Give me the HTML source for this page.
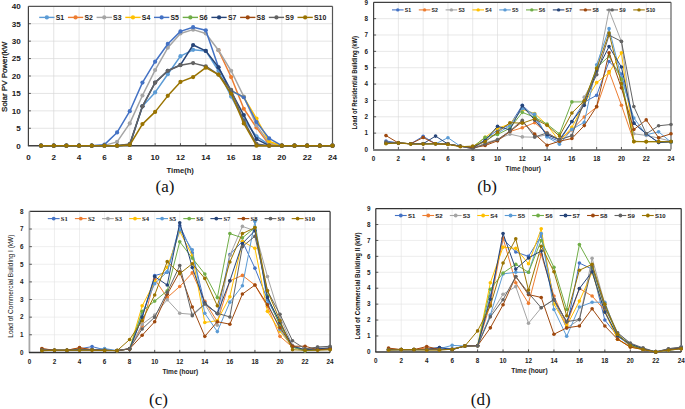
<!DOCTYPE html><html><head><meta charset="utf-8"><style>html,body{margin:0;padding:0;background:#fff;width:685px;height:409px;overflow:hidden}svg{display:block}text{font-family:"Liberation Sans",sans-serif}</style></head><body>
<svg width="685" height="409" viewBox="0 0 685 409">
<g stroke="#D9D9D9" stroke-width="0.7"><line x1="53.74" y1="6.3" x2="53.74" y2="145.7"/><line x1="79.08" y1="6.3" x2="79.08" y2="145.7"/><line x1="104.43" y1="6.3" x2="104.43" y2="145.7"/><line x1="129.77" y1="6.3" x2="129.77" y2="145.7"/><line x1="155.11" y1="6.3" x2="155.11" y2="145.7"/><line x1="180.45" y1="6.3" x2="180.45" y2="145.7"/><line x1="205.79" y1="6.3" x2="205.79" y2="145.7"/><line x1="231.13" y1="6.3" x2="231.13" y2="145.7"/><line x1="256.48" y1="6.3" x2="256.48" y2="145.7"/><line x1="281.82" y1="6.3" x2="281.82" y2="145.7"/><line x1="307.16" y1="6.3" x2="307.16" y2="145.7"/><line x1="28.4" y1="128.27" x2="332.5" y2="128.27"/><line x1="28.4" y1="110.85" x2="332.5" y2="110.85"/><line x1="28.4" y1="93.42" x2="332.5" y2="93.42"/><line x1="28.4" y1="76" x2="332.5" y2="76"/><line x1="28.4" y1="58.58" x2="332.5" y2="58.58"/><line x1="28.4" y1="41.15" x2="332.5" y2="41.15"/><line x1="28.4" y1="23.73" x2="332.5" y2="23.73"/></g>
<line x1="28.4" y1="6.3" x2="332.5" y2="6.3" stroke="#555" stroke-width="1.2"/>
<line x1="332.5" y1="6.3" x2="332.5" y2="145.7" stroke="#555" stroke-width="1.2"/>
<line x1="28.4" y1="6.3" x2="28.4" y2="145.7" stroke="#404040" stroke-width="1.2"/>
<line x1="27.9" y1="145.7" x2="332.5" y2="145.7" stroke="#404040" stroke-width="1.5"/>
<g stroke="#333" stroke-width="0.8"><line x1="28.4" y1="128.27" x2="30.9" y2="128.27"/><line x1="28.4" y1="110.85" x2="30.9" y2="110.85"/><line x1="28.4" y1="93.42" x2="30.9" y2="93.42"/><line x1="28.4" y1="76" x2="30.9" y2="76"/><line x1="28.4" y1="58.58" x2="30.9" y2="58.58"/><line x1="28.4" y1="41.15" x2="30.9" y2="41.15"/><line x1="28.4" y1="23.73" x2="30.9" y2="23.73"/><line x1="53.74" y1="145.7" x2="53.74" y2="143.2"/><line x1="79.08" y1="145.7" x2="79.08" y2="143.2"/><line x1="104.43" y1="145.7" x2="104.43" y2="143.2"/><line x1="129.77" y1="145.7" x2="129.77" y2="143.2"/><line x1="155.11" y1="145.7" x2="155.11" y2="143.2"/><line x1="180.45" y1="145.7" x2="180.45" y2="143.2"/><line x1="205.79" y1="145.7" x2="205.79" y2="143.2"/><line x1="231.13" y1="145.7" x2="231.13" y2="143.2"/><line x1="256.48" y1="145.7" x2="256.48" y2="143.2"/><line x1="281.82" y1="145.7" x2="281.82" y2="143.2"/><line x1="307.16" y1="145.7" x2="307.16" y2="143.2"/></g>
<g font-size="8.1" font-weight="bold" fill="#222"><text x="20.8" y="148.62" text-anchor="end">0</text><text x="20.8" y="131.19" text-anchor="end">5</text><text x="20.8" y="113.77" text-anchor="end">10</text><text x="20.8" y="96.34" text-anchor="end">15</text><text x="20.8" y="78.92" text-anchor="end">20</text><text x="20.8" y="61.49" text-anchor="end">25</text><text x="20.8" y="44.07" text-anchor="end">30</text><text x="20.8" y="26.64" text-anchor="end">35</text><text x="20.8" y="9.22" text-anchor="end">40</text><text x="28.4" y="160.2" text-anchor="middle">0</text><text x="53.74" y="160.2" text-anchor="middle">2</text><text x="79.08" y="160.2" text-anchor="middle">4</text><text x="104.43" y="160.2" text-anchor="middle">6</text><text x="129.77" y="160.2" text-anchor="middle">8</text><text x="155.11" y="160.2" text-anchor="middle">10</text><text x="180.45" y="160.2" text-anchor="middle">12</text><text x="205.79" y="160.2" text-anchor="middle">14</text><text x="231.13" y="160.2" text-anchor="middle">16</text><text x="256.48" y="160.2" text-anchor="middle">18</text><text x="281.82" y="160.2" text-anchor="middle">20</text><text x="307.16" y="160.2" text-anchor="middle">22</text><text x="332.5" y="160.2" text-anchor="middle">24</text></g>
<polyline points="41.07,145.7 53.74,145.7 66.41,145.7 79.08,145.7 91.75,145.7 104.43,145.7 117.1,145.7 129.77,144.65 142.44,106.32 155.11,92.38 167.78,74.26 180.45,56.14 193.12,49.86 205.79,50.91 218.46,70.77 231.13,96.56 243.8,119.56 256.48,136.29 269.15,144.65 281.82,145.7 294.49,145.7 307.16,145.7 319.83,145.7 332.5,145.7" fill="none" stroke="#5B9BD5" stroke-width="1.5" stroke-linejoin="round"/>
<g fill="#5B9BD5"><circle cx="41.07" cy="145.7" r="2.1"/><circle cx="53.74" cy="145.7" r="2.1"/><circle cx="66.41" cy="145.7" r="2.1"/><circle cx="79.08" cy="145.7" r="2.1"/><circle cx="91.75" cy="145.7" r="2.1"/><circle cx="104.43" cy="145.7" r="2.1"/><circle cx="117.1" cy="145.7" r="2.1"/><circle cx="129.77" cy="144.65" r="2.1"/><circle cx="142.44" cy="106.32" r="2.1"/><circle cx="155.11" cy="92.38" r="2.1"/><circle cx="167.78" cy="74.26" r="2.1"/><circle cx="180.45" cy="56.14" r="2.1"/><circle cx="193.12" cy="49.86" r="2.1"/><circle cx="205.79" cy="50.91" r="2.1"/><circle cx="218.46" cy="70.77" r="2.1"/><circle cx="231.13" cy="96.56" r="2.1"/><circle cx="243.8" cy="119.56" r="2.1"/><circle cx="256.48" cy="136.29" r="2.1"/><circle cx="269.15" cy="144.65" r="2.1"/><circle cx="281.82" cy="145.7" r="2.1"/><circle cx="294.49" cy="145.7" r="2.1"/><circle cx="307.16" cy="145.7" r="2.1"/><circle cx="319.83" cy="145.7" r="2.1"/><circle cx="332.5" cy="145.7" r="2.1"/></g>
<polyline points="218.46,50.21 231.13,77.05 243.8,108.76 256.48,127.58 269.15,144.65 281.82,145.7 294.49,145.7 307.16,145.7 319.83,145.7 332.5,145.7" fill="none" stroke="#ED7D31" stroke-width="1.5" stroke-linejoin="round"/>
<g fill="#ED7D31"><circle cx="218.46" cy="50.21" r="2.1"/><circle cx="231.13" cy="77.05" r="2.1"/><circle cx="243.8" cy="108.76" r="2.1"/><circle cx="256.48" cy="127.58" r="2.1"/><circle cx="269.15" cy="144.65" r="2.1"/><circle cx="281.82" cy="145.7" r="2.1"/><circle cx="294.49" cy="145.7" r="2.1"/><circle cx="307.16" cy="145.7" r="2.1"/><circle cx="319.83" cy="145.7" r="2.1"/><circle cx="332.5" cy="145.7" r="2.1"/></g>
<polyline points="41.07,145.7 53.74,145.7 66.41,145.7 79.08,145.7 91.75,145.7 104.43,145.35 117.1,141.87 129.77,123.4 142.44,95.52 155.11,70.08 167.78,47.77 180.45,33.48 193.12,29.65 205.79,33.48 218.46,50.21 231.13,70.77 243.8,96.56 256.48,125.14 269.15,142.91 281.82,145.7 294.49,145.7 307.16,145.7 319.83,145.7 332.5,145.7" fill="none" stroke="#A5A5A5" stroke-width="1.5" stroke-linejoin="round"/>
<g fill="#A5A5A5"><circle cx="41.07" cy="145.7" r="2.1"/><circle cx="53.74" cy="145.7" r="2.1"/><circle cx="66.41" cy="145.7" r="2.1"/><circle cx="79.08" cy="145.7" r="2.1"/><circle cx="91.75" cy="145.7" r="2.1"/><circle cx="104.43" cy="145.35" r="2.1"/><circle cx="117.1" cy="141.87" r="2.1"/><circle cx="129.77" cy="123.4" r="2.1"/><circle cx="142.44" cy="95.52" r="2.1"/><circle cx="155.11" cy="70.08" r="2.1"/><circle cx="167.78" cy="47.77" r="2.1"/><circle cx="180.45" cy="33.48" r="2.1"/><circle cx="193.12" cy="29.65" r="2.1"/><circle cx="205.79" cy="33.48" r="2.1"/><circle cx="218.46" cy="50.21" r="2.1"/><circle cx="231.13" cy="70.77" r="2.1"/><circle cx="243.8" cy="96.56" r="2.1"/><circle cx="256.48" cy="125.14" r="2.1"/><circle cx="269.15" cy="142.91" r="2.1"/><circle cx="281.82" cy="145.7" r="2.1"/><circle cx="294.49" cy="145.7" r="2.1"/><circle cx="307.16" cy="145.7" r="2.1"/><circle cx="319.83" cy="145.7" r="2.1"/><circle cx="332.5" cy="145.7" r="2.1"/></g>
<polyline points="231.13,90.64 243.8,97.26 256.48,118.52 269.15,141.52 281.82,145.7 294.49,145.7 307.16,145.7 319.83,145.7 332.5,145.7" fill="none" stroke="#FFC000" stroke-width="1.5" stroke-linejoin="round"/>
<g fill="#FFC000"><circle cx="231.13" cy="90.64" r="2.1"/><circle cx="243.8" cy="97.26" r="2.1"/><circle cx="256.48" cy="118.52" r="2.1"/><circle cx="269.15" cy="141.52" r="2.1"/><circle cx="281.82" cy="145.7" r="2.1"/><circle cx="294.49" cy="145.7" r="2.1"/><circle cx="307.16" cy="145.7" r="2.1"/><circle cx="319.83" cy="145.7" r="2.1"/><circle cx="332.5" cy="145.7" r="2.1"/></g>
<polyline points="41.07,145.7 53.74,145.7 66.41,145.7 79.08,145.7 91.75,145.7 104.43,144.65 117.1,132.46 129.77,111.2 142.44,82.62 155.11,61.71 167.78,43.94 180.45,31.39 193.12,27.21 205.79,30.35 218.46,67.29 231.13,90.64 243.8,97.26 256.48,122 269.15,138.38 281.82,145.7 294.49,145.7 307.16,145.7 319.83,145.7 332.5,145.7" fill="none" stroke="#4472C4" stroke-width="1.5" stroke-linejoin="round"/>
<g fill="#4472C4"><circle cx="41.07" cy="145.7" r="2.1"/><circle cx="53.74" cy="145.7" r="2.1"/><circle cx="66.41" cy="145.7" r="2.1"/><circle cx="79.08" cy="145.7" r="2.1"/><circle cx="91.75" cy="145.7" r="2.1"/><circle cx="104.43" cy="144.65" r="2.1"/><circle cx="117.1" cy="132.46" r="2.1"/><circle cx="129.77" cy="111.2" r="2.1"/><circle cx="142.44" cy="82.62" r="2.1"/><circle cx="155.11" cy="61.71" r="2.1"/><circle cx="167.78" cy="43.94" r="2.1"/><circle cx="180.45" cy="31.39" r="2.1"/><circle cx="193.12" cy="27.21" r="2.1"/><circle cx="205.79" cy="30.35" r="2.1"/><circle cx="218.46" cy="67.29" r="2.1"/><circle cx="231.13" cy="90.64" r="2.1"/><circle cx="243.8" cy="97.26" r="2.1"/><circle cx="256.48" cy="122" r="2.1"/><circle cx="269.15" cy="138.38" r="2.1"/><circle cx="281.82" cy="145.7" r="2.1"/><circle cx="294.49" cy="145.7" r="2.1"/><circle cx="307.16" cy="145.7" r="2.1"/><circle cx="319.83" cy="145.7" r="2.1"/><circle cx="332.5" cy="145.7" r="2.1"/></g>
<polyline points="41.07,145.7 53.74,145.7 66.41,145.7 79.08,145.7 91.75,145.7 104.43,145.7 117.1,145.7 129.77,144.65 142.44,106.32 155.11,82.62 167.78,70.77 180.45,64.85 193.12,44.98 205.79,50.91 218.46,67.29 231.13,91.68 243.8,115.03 256.48,139.08 269.15,145.7 281.82,145.7 294.49,145.7 307.16,145.7 319.83,145.7 332.5,145.7" fill="none" stroke="#264478" stroke-width="1.5" stroke-linejoin="round"/>
<g fill="#264478"><circle cx="41.07" cy="145.7" r="2.1"/><circle cx="53.74" cy="145.7" r="2.1"/><circle cx="66.41" cy="145.7" r="2.1"/><circle cx="79.08" cy="145.7" r="2.1"/><circle cx="91.75" cy="145.7" r="2.1"/><circle cx="104.43" cy="145.7" r="2.1"/><circle cx="117.1" cy="145.7" r="2.1"/><circle cx="129.77" cy="144.65" r="2.1"/><circle cx="142.44" cy="106.32" r="2.1"/><circle cx="155.11" cy="82.62" r="2.1"/><circle cx="167.78" cy="70.77" r="2.1"/><circle cx="180.45" cy="64.85" r="2.1"/><circle cx="193.12" cy="44.98" r="2.1"/><circle cx="205.79" cy="50.91" r="2.1"/><circle cx="218.46" cy="67.29" r="2.1"/><circle cx="231.13" cy="91.68" r="2.1"/><circle cx="243.8" cy="115.03" r="2.1"/><circle cx="256.48" cy="139.08" r="2.1"/><circle cx="269.15" cy="145.7" r="2.1"/><circle cx="281.82" cy="145.7" r="2.1"/><circle cx="294.49" cy="145.7" r="2.1"/><circle cx="307.16" cy="145.7" r="2.1"/><circle cx="319.83" cy="145.7" r="2.1"/><circle cx="332.5" cy="145.7" r="2.1"/></g>
<polyline points="41.07,145.7 53.74,145.7 66.41,145.7 79.08,145.7 91.75,145.7 104.43,145.7 117.1,145.7 129.77,143.96 142.44,106.32 155.11,82.62 167.78,70.77 180.45,65.2 193.12,63.11 205.79,66.24 218.46,74.61 231.13,89.94 243.8,120.96 256.48,143.96 269.15,145.7 281.82,145.7 294.49,145.7 307.16,145.7 319.83,145.7 332.5,145.7" fill="none" stroke="#636363" stroke-width="1.5" stroke-linejoin="round"/>
<g fill="#636363"><circle cx="41.07" cy="145.7" r="2.1"/><circle cx="53.74" cy="145.7" r="2.1"/><circle cx="66.41" cy="145.7" r="2.1"/><circle cx="79.08" cy="145.7" r="2.1"/><circle cx="91.75" cy="145.7" r="2.1"/><circle cx="104.43" cy="145.7" r="2.1"/><circle cx="117.1" cy="145.7" r="2.1"/><circle cx="129.77" cy="143.96" r="2.1"/><circle cx="142.44" cy="106.32" r="2.1"/><circle cx="155.11" cy="82.62" r="2.1"/><circle cx="167.78" cy="70.77" r="2.1"/><circle cx="180.45" cy="65.2" r="2.1"/><circle cx="193.12" cy="63.11" r="2.1"/><circle cx="205.79" cy="66.24" r="2.1"/><circle cx="218.46" cy="74.61" r="2.1"/><circle cx="231.13" cy="89.94" r="2.1"/><circle cx="243.8" cy="120.96" r="2.1"/><circle cx="256.48" cy="143.96" r="2.1"/><circle cx="269.15" cy="145.7" r="2.1"/><circle cx="281.82" cy="145.7" r="2.1"/><circle cx="294.49" cy="145.7" r="2.1"/><circle cx="307.16" cy="145.7" r="2.1"/><circle cx="319.83" cy="145.7" r="2.1"/><circle cx="332.5" cy="145.7" r="2.1"/></g>
<polyline points="41.07,145.7 53.74,145.7 66.41,145.7 79.08,145.7 91.75,145.7 104.43,145.7 117.1,145.7 129.77,145 142.44,124.09 155.11,111.9 167.78,95.86 180.45,81.92 193.12,77.05 205.79,67.64 218.46,74.61 231.13,93.77 243.8,123.4 256.48,145.7 269.15,145.7 281.82,145.7 294.49,145.7 307.16,145.7 319.83,145.7 332.5,145.7" fill="none" stroke="#997300" stroke-width="1.5" stroke-linejoin="round"/>
<g fill="#997300"><circle cx="41.07" cy="145.7" r="2.1"/><circle cx="53.74" cy="145.7" r="2.1"/><circle cx="66.41" cy="145.7" r="2.1"/><circle cx="79.08" cy="145.7" r="2.1"/><circle cx="91.75" cy="145.7" r="2.1"/><circle cx="104.43" cy="145.7" r="2.1"/><circle cx="117.1" cy="145.7" r="2.1"/><circle cx="129.77" cy="145" r="2.1"/><circle cx="142.44" cy="124.09" r="2.1"/><circle cx="155.11" cy="111.9" r="2.1"/><circle cx="167.78" cy="95.86" r="2.1"/><circle cx="180.45" cy="81.92" r="2.1"/><circle cx="193.12" cy="77.05" r="2.1"/><circle cx="205.79" cy="67.64" r="2.1"/><circle cx="218.46" cy="74.61" r="2.1"/><circle cx="231.13" cy="93.77" r="2.1"/><circle cx="243.8" cy="123.4" r="2.1"/><circle cx="256.48" cy="145.7" r="2.1"/><circle cx="269.15" cy="145.7" r="2.1"/><circle cx="281.82" cy="145.7" r="2.1"/><circle cx="294.49" cy="145.7" r="2.1"/><circle cx="307.16" cy="145.7" r="2.1"/><circle cx="319.83" cy="145.7" r="2.1"/><circle cx="332.5" cy="145.7" r="2.1"/></g>
<line x1="39.2" y1="17.4" x2="54.5" y2="17.4" stroke="#5B9BD5" stroke-width="1.4"/><circle cx="46.85" cy="17.4" r="2.1" fill="#5B9BD5"/><text x="55.7" y="19.88" style="font-family:'Liberation Sans'" font-size="6.9" font-weight="bold" fill="#222">S1</text><line x1="67.9" y1="17.4" x2="83.2" y2="17.4" stroke="#ED7D31" stroke-width="1.4"/><circle cx="75.55" cy="17.4" r="2.1" fill="#ED7D31"/><text x="84.4" y="19.88" style="font-family:'Liberation Sans'" font-size="6.9" font-weight="bold" fill="#222">S2</text><line x1="96.6" y1="17.4" x2="111.9" y2="17.4" stroke="#A5A5A5" stroke-width="1.4"/><circle cx="104.25" cy="17.4" r="2.1" fill="#A5A5A5"/><text x="113.1" y="19.88" style="font-family:'Liberation Sans'" font-size="6.9" font-weight="bold" fill="#222">S3</text><line x1="125.3" y1="17.4" x2="140.6" y2="17.4" stroke="#FFC000" stroke-width="1.4"/><circle cx="132.95" cy="17.4" r="2.1" fill="#FFC000"/><text x="141.8" y="19.88" style="font-family:'Liberation Sans'" font-size="6.9" font-weight="bold" fill="#222">S4</text><line x1="154" y1="17.4" x2="169.3" y2="17.4" stroke="#4472C4" stroke-width="1.4"/><circle cx="161.65" cy="17.4" r="2.1" fill="#4472C4"/><text x="170.5" y="19.88" style="font-family:'Liberation Sans'" font-size="6.9" font-weight="bold" fill="#222">S5</text><line x1="182.7" y1="17.4" x2="198" y2="17.4" stroke="#70AD47" stroke-width="1.4"/><circle cx="190.35" cy="17.4" r="2.1" fill="#70AD47"/><text x="199.2" y="19.88" style="font-family:'Liberation Sans'" font-size="6.9" font-weight="bold" fill="#222">S6</text><line x1="211.4" y1="17.4" x2="226.7" y2="17.4" stroke="#264478" stroke-width="1.4"/><circle cx="219.05" cy="17.4" r="2.1" fill="#264478"/><text x="227.9" y="19.88" style="font-family:'Liberation Sans'" font-size="6.9" font-weight="bold" fill="#222">S7</text><line x1="240.1" y1="17.4" x2="255.4" y2="17.4" stroke="#9E480E" stroke-width="1.4"/><circle cx="247.75" cy="17.4" r="2.1" fill="#9E480E"/><text x="256.6" y="19.88" style="font-family:'Liberation Sans'" font-size="6.9" font-weight="bold" fill="#222">S8</text><line x1="268.8" y1="17.4" x2="284.1" y2="17.4" stroke="#636363" stroke-width="1.4"/><circle cx="276.45" cy="17.4" r="2.1" fill="#636363"/><text x="285.3" y="19.88" style="font-family:'Liberation Sans'" font-size="6.9" font-weight="bold" fill="#222">S9</text><line x1="297.5" y1="17.4" x2="312.8" y2="17.4" stroke="#997300" stroke-width="1.4"/><circle cx="305.15" cy="17.4" r="2.1" fill="#997300"/><text x="314" y="19.88" style="font-family:'Liberation Sans'" font-size="6.9" font-weight="bold" fill="#222">S10</text>
<text x="166.5" y="173" font-size="7.5" font-weight="bold" fill="#222" textLength="27.4" lengthAdjust="spacingAndGlyphs">Time(h)</text>
<text transform="translate(6.9,111.9) rotate(-90)" font-size="7.6" font-weight="normal" fill="#111" stroke="#111" stroke-width="0.25" textLength="70.2" lengthAdjust="spacingAndGlyphs">Solar PV Power(kW</text>
<text x="155.6" y="192.3" style="font-family:'Liberation Serif',serif" font-size="17" fill="#111">(a)</text>
<g stroke="#D9D9D9" stroke-width="0.6"><line x1="398.38" y1="2.3" x2="398.38" y2="149.5"/><line x1="423.17" y1="2.3" x2="423.17" y2="149.5"/><line x1="447.95" y1="2.3" x2="447.95" y2="149.5"/><line x1="472.73" y1="2.3" x2="472.73" y2="149.5"/><line x1="497.52" y1="2.3" x2="497.52" y2="149.5"/><line x1="522.3" y1="2.3" x2="522.3" y2="149.5"/><line x1="547.08" y1="2.3" x2="547.08" y2="149.5"/><line x1="571.87" y1="2.3" x2="571.87" y2="149.5"/><line x1="596.65" y1="2.3" x2="596.65" y2="149.5"/><line x1="621.43" y1="2.3" x2="621.43" y2="149.5"/><line x1="646.22" y1="2.3" x2="646.22" y2="149.5"/><line x1="373.6" y1="133.14" x2="671" y2="133.14"/><line x1="373.6" y1="116.79" x2="671" y2="116.79"/><line x1="373.6" y1="100.43" x2="671" y2="100.43"/><line x1="373.6" y1="84.08" x2="671" y2="84.08"/><line x1="373.6" y1="67.72" x2="671" y2="67.72"/><line x1="373.6" y1="51.37" x2="671" y2="51.37"/><line x1="373.6" y1="35.01" x2="671" y2="35.01"/><line x1="373.6" y1="18.66" x2="671" y2="18.66"/></g>
<line x1="373.6" y1="2.3" x2="671" y2="2.3" stroke="#404040" stroke-width="1.2"/>
<line x1="671" y1="2.3" x2="671" y2="149.5" stroke="#606060" stroke-width="1.2"/>
<line x1="373.6" y1="2.3" x2="373.6" y2="149.5" stroke="#404040" stroke-width="1.2"/>
<line x1="373.1" y1="149.9" x2="671" y2="149.9" stroke="#7a7a7a" stroke-width="2.0"/>
<g stroke="#333" stroke-width="0.8"><line x1="373.6" y1="133.14" x2="376.1" y2="133.14"/><line x1="373.6" y1="116.79" x2="376.1" y2="116.79"/><line x1="373.6" y1="100.43" x2="376.1" y2="100.43"/><line x1="373.6" y1="84.08" x2="376.1" y2="84.08"/><line x1="373.6" y1="67.72" x2="376.1" y2="67.72"/><line x1="373.6" y1="51.37" x2="376.1" y2="51.37"/><line x1="373.6" y1="35.01" x2="376.1" y2="35.01"/><line x1="373.6" y1="18.66" x2="376.1" y2="18.66"/><line x1="398.38" y1="149.5" x2="398.38" y2="147"/><line x1="423.17" y1="149.5" x2="423.17" y2="147"/><line x1="447.95" y1="149.5" x2="447.95" y2="147"/><line x1="472.73" y1="149.5" x2="472.73" y2="147"/><line x1="497.52" y1="149.5" x2="497.52" y2="147"/><line x1="522.3" y1="149.5" x2="522.3" y2="147"/><line x1="547.08" y1="149.5" x2="547.08" y2="147"/><line x1="571.87" y1="149.5" x2="571.87" y2="147"/><line x1="596.65" y1="149.5" x2="596.65" y2="147"/><line x1="621.43" y1="149.5" x2="621.43" y2="147"/><line x1="646.22" y1="149.5" x2="646.22" y2="147"/></g>
<g font-size="6.3" font-weight="bold" fill="#222"><text x="368" y="151.77" text-anchor="end">0</text><text x="368" y="135.41" text-anchor="end">1</text><text x="368" y="119.06" text-anchor="end">2</text><text x="368" y="102.7" text-anchor="end">3</text><text x="368" y="86.35" text-anchor="end">4</text><text x="368" y="69.99" text-anchor="end">5</text><text x="368" y="53.63" text-anchor="end">6</text><text x="368" y="37.28" text-anchor="end">7</text><text x="368" y="20.92" text-anchor="end">8</text><text x="368" y="4.57" text-anchor="end">9</text><text x="373.6" y="160.5" text-anchor="middle">0</text><text x="398.38" y="160.5" text-anchor="middle">2</text><text x="423.17" y="160.5" text-anchor="middle">4</text><text x="447.95" y="160.5" text-anchor="middle">6</text><text x="472.73" y="160.5" text-anchor="middle">8</text><text x="497.52" y="160.5" text-anchor="middle">10</text><text x="522.3" y="160.5" text-anchor="middle">12</text><text x="547.08" y="160.5" text-anchor="middle">14</text><text x="571.87" y="160.5" text-anchor="middle">16</text><text x="596.65" y="160.5" text-anchor="middle">18</text><text x="621.43" y="160.5" text-anchor="middle">20</text><text x="646.22" y="160.5" text-anchor="middle">22</text><text x="671" y="160.5" text-anchor="middle">24</text></g>
<polyline points="385.99,141 398.38,142.96 410.78,143.78 423.17,136.25 435.56,143.78 447.95,144.1 460.34,146.23 472.73,147.86 485.12,139.69 497.52,129.87 509.91,124.97 522.3,105.34 534.69,116.79 547.08,136.42 559.48,141.32 571.87,121.7 584.26,102.07 596.65,95.36 609.04,61.51 621.43,73.94 633.83,123.17 646.22,133.8 658.61,142.47 671,142.14" fill="none" stroke="#4472C4" stroke-width="1.0" stroke-linejoin="round"/>
<g fill="#4472C4"><circle cx="385.99" cy="141" r="1.8"/><circle cx="398.38" cy="142.96" r="1.8"/><circle cx="410.78" cy="143.78" r="1.8"/><circle cx="423.17" cy="136.25" r="1.8"/><circle cx="435.56" cy="143.78" r="1.8"/><circle cx="447.95" cy="144.1" r="1.8"/><circle cx="460.34" cy="146.23" r="1.8"/><circle cx="472.73" cy="147.86" r="1.8"/><circle cx="485.12" cy="139.69" r="1.8"/><circle cx="497.52" cy="129.87" r="1.8"/><circle cx="509.91" cy="124.97" r="1.8"/><circle cx="522.3" cy="105.34" r="1.8"/><circle cx="534.69" cy="116.79" r="1.8"/><circle cx="547.08" cy="136.42" r="1.8"/><circle cx="559.48" cy="141.32" r="1.8"/><circle cx="571.87" cy="121.7" r="1.8"/><circle cx="584.26" cy="102.07" r="1.8"/><circle cx="596.65" cy="95.36" r="1.8"/><circle cx="609.04" cy="61.51" r="1.8"/><circle cx="621.43" cy="73.94" r="1.8"/><circle cx="633.83" cy="123.17" r="1.8"/><circle cx="646.22" cy="133.8" r="1.8"/><circle cx="658.61" cy="142.47" r="1.8"/><circle cx="671" cy="142.14" r="1.8"/></g>
<polyline points="385.99,142.96 398.38,142.96 410.78,143.78 423.17,143.78 435.56,143.78 447.95,144.1 460.34,146.23 472.73,147.05 485.12,144.59 497.52,139.69 509.91,131.51 522.3,127.75 534.69,122.68 547.08,133.14 559.48,139.69 571.87,129.87 584.26,116.95 596.65,106.98 609.04,71.48 621.43,105.18 633.83,141.32 646.22,141.65 658.61,141.65 671,141.65" fill="none" stroke="#ED7D31" stroke-width="1.0" stroke-linejoin="round"/>
<g fill="#ED7D31"><circle cx="385.99" cy="142.96" r="1.8"/><circle cx="398.38" cy="142.96" r="1.8"/><circle cx="410.78" cy="143.78" r="1.8"/><circle cx="423.17" cy="143.78" r="1.8"/><circle cx="435.56" cy="143.78" r="1.8"/><circle cx="447.95" cy="144.1" r="1.8"/><circle cx="460.34" cy="146.23" r="1.8"/><circle cx="472.73" cy="147.05" r="1.8"/><circle cx="485.12" cy="144.59" r="1.8"/><circle cx="497.52" cy="139.69" r="1.8"/><circle cx="509.91" cy="131.51" r="1.8"/><circle cx="522.3" cy="127.75" r="1.8"/><circle cx="534.69" cy="122.68" r="1.8"/><circle cx="547.08" cy="133.14" r="1.8"/><circle cx="559.48" cy="139.69" r="1.8"/><circle cx="571.87" cy="129.87" r="1.8"/><circle cx="584.26" cy="116.95" r="1.8"/><circle cx="596.65" cy="106.98" r="1.8"/><circle cx="609.04" cy="71.48" r="1.8"/><circle cx="621.43" cy="105.18" r="1.8"/><circle cx="633.83" cy="141.32" r="1.8"/><circle cx="646.22" cy="141.65" r="1.8"/><circle cx="658.61" cy="141.65" r="1.8"/><circle cx="671" cy="141.65" r="1.8"/></g>
<polyline points="385.99,142.96 398.38,142.96 410.78,143.78 423.17,143.78 435.56,143.78 447.95,144.1 460.34,146.23 472.73,148.68 485.12,142.96 497.52,139.36 509.91,134.13 522.3,136.91 534.69,137.23 547.08,134.78 559.48,139.69 571.87,135.6 584.26,97.16 596.65,74.26 609.04,9.99 621.43,41.55 633.83,133.8 646.22,135.43 658.61,138.05 671,141.32" fill="none" stroke="#A5A5A5" stroke-width="1.0" stroke-linejoin="round"/>
<g fill="#A5A5A5"><circle cx="385.99" cy="142.96" r="1.8"/><circle cx="398.38" cy="142.96" r="1.8"/><circle cx="410.78" cy="143.78" r="1.8"/><circle cx="423.17" cy="143.78" r="1.8"/><circle cx="435.56" cy="143.78" r="1.8"/><circle cx="447.95" cy="144.1" r="1.8"/><circle cx="460.34" cy="146.23" r="1.8"/><circle cx="472.73" cy="148.68" r="1.8"/><circle cx="485.12" cy="142.96" r="1.8"/><circle cx="497.52" cy="139.36" r="1.8"/><circle cx="509.91" cy="134.13" r="1.8"/><circle cx="522.3" cy="136.91" r="1.8"/><circle cx="534.69" cy="137.23" r="1.8"/><circle cx="547.08" cy="134.78" r="1.8"/><circle cx="559.48" cy="139.69" r="1.8"/><circle cx="571.87" cy="135.6" r="1.8"/><circle cx="584.26" cy="97.16" r="1.8"/><circle cx="596.65" cy="74.26" r="1.8"/><circle cx="609.04" cy="9.99" r="1.8"/><circle cx="621.43" cy="41.55" r="1.8"/><circle cx="633.83" cy="133.8" r="1.8"/><circle cx="646.22" cy="135.43" r="1.8"/><circle cx="658.61" cy="138.05" r="1.8"/><circle cx="671" cy="141.32" r="1.8"/></g>
<polyline points="385.99,142.96 398.38,142.63 410.78,143.78 423.17,143.78 435.56,143.78 447.95,144.1 460.34,146.23 472.73,147.05 485.12,137.4 497.52,128.24 509.91,124.15 522.3,109.43 534.69,113.52 547.08,124.97 559.48,141.32 571.87,127.42 584.26,103.7 596.65,82.61 609.04,72.79 621.43,52.84 633.83,141.65 646.22,141.65 658.61,141.65 671,141.65" fill="none" stroke="#FFC000" stroke-width="1.0" stroke-linejoin="round"/>
<g fill="#FFC000"><circle cx="385.99" cy="142.96" r="1.8"/><circle cx="398.38" cy="142.63" r="1.8"/><circle cx="410.78" cy="143.78" r="1.8"/><circle cx="423.17" cy="143.78" r="1.8"/><circle cx="435.56" cy="143.78" r="1.8"/><circle cx="447.95" cy="144.1" r="1.8"/><circle cx="460.34" cy="146.23" r="1.8"/><circle cx="472.73" cy="147.05" r="1.8"/><circle cx="485.12" cy="137.4" r="1.8"/><circle cx="497.52" cy="128.24" r="1.8"/><circle cx="509.91" cy="124.15" r="1.8"/><circle cx="522.3" cy="109.43" r="1.8"/><circle cx="534.69" cy="113.52" r="1.8"/><circle cx="547.08" cy="124.97" r="1.8"/><circle cx="559.48" cy="141.32" r="1.8"/><circle cx="571.87" cy="127.42" r="1.8"/><circle cx="584.26" cy="103.7" r="1.8"/><circle cx="596.65" cy="82.61" r="1.8"/><circle cx="609.04" cy="72.79" r="1.8"/><circle cx="621.43" cy="52.84" r="1.8"/><circle cx="633.83" cy="141.65" r="1.8"/><circle cx="646.22" cy="141.65" r="1.8"/><circle cx="658.61" cy="141.65" r="1.8"/><circle cx="671" cy="141.65" r="1.8"/></g>
<polyline points="385.99,142.96 398.38,142.96 410.78,143.78 423.17,143.78 435.56,143.78 447.95,137.72 460.34,146.23 472.73,147.05 485.12,141.32 497.52,133.14 509.91,125.78 522.3,108.61 534.69,114.17 547.08,136.91 559.48,144.27 571.87,129.38 584.26,122.35 596.65,64.78 609.04,28.63 621.43,77.54 633.83,117.93 646.22,134.78 658.61,131.84 671,142.14" fill="none" stroke="#5B9BD5" stroke-width="1.0" stroke-linejoin="round"/>
<g fill="#5B9BD5"><circle cx="385.99" cy="142.96" r="1.8"/><circle cx="398.38" cy="142.96" r="1.8"/><circle cx="410.78" cy="143.78" r="1.8"/><circle cx="423.17" cy="143.78" r="1.8"/><circle cx="435.56" cy="143.78" r="1.8"/><circle cx="447.95" cy="137.72" r="1.8"/><circle cx="460.34" cy="146.23" r="1.8"/><circle cx="472.73" cy="147.05" r="1.8"/><circle cx="485.12" cy="141.32" r="1.8"/><circle cx="497.52" cy="133.14" r="1.8"/><circle cx="509.91" cy="125.78" r="1.8"/><circle cx="522.3" cy="108.61" r="1.8"/><circle cx="534.69" cy="114.17" r="1.8"/><circle cx="547.08" cy="136.91" r="1.8"/><circle cx="559.48" cy="144.27" r="1.8"/><circle cx="571.87" cy="129.38" r="1.8"/><circle cx="584.26" cy="122.35" r="1.8"/><circle cx="596.65" cy="64.78" r="1.8"/><circle cx="609.04" cy="28.63" r="1.8"/><circle cx="621.43" cy="77.54" r="1.8"/><circle cx="633.83" cy="117.93" r="1.8"/><circle cx="646.22" cy="134.78" r="1.8"/><circle cx="658.61" cy="131.84" r="1.8"/><circle cx="671" cy="142.14" r="1.8"/></g>
<polyline points="385.99,142.96 398.38,142.96 410.78,143.78 423.17,143.78 435.56,143.78 447.95,144.1 460.34,146.23 472.73,147.05 485.12,137.4 497.52,134.45 509.91,128.24 522.3,112.37 534.69,117.28 547.08,124.15 559.48,133.96 571.87,101.91 584.26,101.91 596.65,67.72 609.04,56.11 621.43,79.17 633.83,141.32 646.22,141.65 658.61,141.65 671,141.65" fill="none" stroke="#70AD47" stroke-width="1.0" stroke-linejoin="round"/>
<g fill="#70AD47"><circle cx="385.99" cy="142.96" r="1.8"/><circle cx="398.38" cy="142.96" r="1.8"/><circle cx="410.78" cy="143.78" r="1.8"/><circle cx="423.17" cy="143.78" r="1.8"/><circle cx="435.56" cy="143.78" r="1.8"/><circle cx="447.95" cy="144.1" r="1.8"/><circle cx="460.34" cy="146.23" r="1.8"/><circle cx="472.73" cy="147.05" r="1.8"/><circle cx="485.12" cy="137.4" r="1.8"/><circle cx="497.52" cy="134.45" r="1.8"/><circle cx="509.91" cy="128.24" r="1.8"/><circle cx="522.3" cy="112.37" r="1.8"/><circle cx="534.69" cy="117.28" r="1.8"/><circle cx="547.08" cy="124.15" r="1.8"/><circle cx="559.48" cy="133.96" r="1.8"/><circle cx="571.87" cy="101.91" r="1.8"/><circle cx="584.26" cy="101.91" r="1.8"/><circle cx="596.65" cy="67.72" r="1.8"/><circle cx="609.04" cy="56.11" r="1.8"/><circle cx="621.43" cy="79.17" r="1.8"/><circle cx="633.83" cy="141.32" r="1.8"/><circle cx="646.22" cy="141.65" r="1.8"/><circle cx="658.61" cy="141.65" r="1.8"/><circle cx="671" cy="141.65" r="1.8"/></g>
<polyline points="385.99,142.96 398.38,142.96 410.78,143.78 423.17,143.78 435.56,136.09 447.95,144.1 460.34,146.23 472.73,147.86 485.12,140.5 497.52,126.28 509.91,129.87 522.3,105.67 534.69,120.06 547.08,134.78 559.48,139.69 571.87,121.53 584.26,105.34 596.65,70.99 609.04,46.62 621.43,67.07 633.83,123.17 646.22,133.8 658.61,142.47 671,141.65" fill="none" stroke="#264478" stroke-width="1.0" stroke-linejoin="round"/>
<g fill="#264478"><circle cx="385.99" cy="142.96" r="1.8"/><circle cx="398.38" cy="142.96" r="1.8"/><circle cx="410.78" cy="143.78" r="1.8"/><circle cx="423.17" cy="143.78" r="1.8"/><circle cx="435.56" cy="136.09" r="1.8"/><circle cx="447.95" cy="144.1" r="1.8"/><circle cx="460.34" cy="146.23" r="1.8"/><circle cx="472.73" cy="147.86" r="1.8"/><circle cx="485.12" cy="140.5" r="1.8"/><circle cx="497.52" cy="126.28" r="1.8"/><circle cx="509.91" cy="129.87" r="1.8"/><circle cx="522.3" cy="105.67" r="1.8"/><circle cx="534.69" cy="120.06" r="1.8"/><circle cx="547.08" cy="134.78" r="1.8"/><circle cx="559.48" cy="139.69" r="1.8"/><circle cx="571.87" cy="121.53" r="1.8"/><circle cx="584.26" cy="105.34" r="1.8"/><circle cx="596.65" cy="70.99" r="1.8"/><circle cx="609.04" cy="46.62" r="1.8"/><circle cx="621.43" cy="67.07" r="1.8"/><circle cx="633.83" cy="123.17" r="1.8"/><circle cx="646.22" cy="133.8" r="1.8"/><circle cx="658.61" cy="142.47" r="1.8"/><circle cx="671" cy="141.65" r="1.8"/></g>
<polyline points="385.99,135.6 398.38,142.96 410.78,143.78 423.17,137.56 435.56,143.78 447.95,144.1 460.34,146.23 472.73,147.86 485.12,145.57 497.52,140.83 509.91,131.51 522.3,121.7 534.69,134.13 547.08,145.25 559.48,141.16 571.87,138.54 584.26,125.62 596.65,106.48 609.04,52.68 621.43,87.84 633.83,129.55 646.22,119.9 658.61,137.72 671,133.8" fill="none" stroke="#9E480E" stroke-width="1.0" stroke-linejoin="round"/>
<g fill="#9E480E"><circle cx="385.99" cy="135.6" r="1.8"/><circle cx="398.38" cy="142.96" r="1.8"/><circle cx="410.78" cy="143.78" r="1.8"/><circle cx="423.17" cy="137.56" r="1.8"/><circle cx="435.56" cy="143.78" r="1.8"/><circle cx="447.95" cy="144.1" r="1.8"/><circle cx="460.34" cy="146.23" r="1.8"/><circle cx="472.73" cy="147.86" r="1.8"/><circle cx="485.12" cy="145.57" r="1.8"/><circle cx="497.52" cy="140.83" r="1.8"/><circle cx="509.91" cy="131.51" r="1.8"/><circle cx="522.3" cy="121.7" r="1.8"/><circle cx="534.69" cy="134.13" r="1.8"/><circle cx="547.08" cy="145.25" r="1.8"/><circle cx="559.48" cy="141.16" r="1.8"/><circle cx="571.87" cy="138.54" r="1.8"/><circle cx="584.26" cy="125.62" r="1.8"/><circle cx="596.65" cy="106.48" r="1.8"/><circle cx="609.04" cy="52.68" r="1.8"/><circle cx="621.43" cy="87.84" r="1.8"/><circle cx="633.83" cy="129.55" r="1.8"/><circle cx="646.22" cy="119.9" r="1.8"/><circle cx="658.61" cy="137.72" r="1.8"/><circle cx="671" cy="133.8" r="1.8"/></g>
<polyline points="385.99,142.14 398.38,142.96 410.78,143.78 423.17,143.78 435.56,143.78 447.95,144.1 460.34,146.23 472.73,148.85 485.12,143.94 497.52,139.69 509.91,131.02 522.3,120.22 534.69,136.91 547.08,132.98 559.48,139.69 571.87,135.6 584.26,101.25 596.65,74.76 609.04,35.17 621.43,41.39 633.83,106.48 646.22,133.8 658.61,125.78 671,124.48" fill="none" stroke="#636363" stroke-width="1.0" stroke-linejoin="round"/>
<g fill="#636363"><circle cx="385.99" cy="142.14" r="1.8"/><circle cx="398.38" cy="142.96" r="1.8"/><circle cx="410.78" cy="143.78" r="1.8"/><circle cx="423.17" cy="143.78" r="1.8"/><circle cx="435.56" cy="143.78" r="1.8"/><circle cx="447.95" cy="144.1" r="1.8"/><circle cx="460.34" cy="146.23" r="1.8"/><circle cx="472.73" cy="148.85" r="1.8"/><circle cx="485.12" cy="143.94" r="1.8"/><circle cx="497.52" cy="139.69" r="1.8"/><circle cx="509.91" cy="131.02" r="1.8"/><circle cx="522.3" cy="120.22" r="1.8"/><circle cx="534.69" cy="136.91" r="1.8"/><circle cx="547.08" cy="132.98" r="1.8"/><circle cx="559.48" cy="139.69" r="1.8"/><circle cx="571.87" cy="135.6" r="1.8"/><circle cx="584.26" cy="101.25" r="1.8"/><circle cx="596.65" cy="74.76" r="1.8"/><circle cx="609.04" cy="35.17" r="1.8"/><circle cx="621.43" cy="41.39" r="1.8"/><circle cx="633.83" cy="106.48" r="1.8"/><circle cx="646.22" cy="133.8" r="1.8"/><circle cx="658.61" cy="125.78" r="1.8"/><circle cx="671" cy="124.48" r="1.8"/></g>
<polyline points="385.99,143.78 398.38,142.96 410.78,144.1 423.17,144.1 435.56,143.78 447.95,144.43 460.34,146.72 472.73,146.07 485.12,141.65 497.52,132.16 509.91,122.68 522.3,123.17 534.69,118.92 547.08,125.29 559.48,136.09 571.87,113.03 584.26,100.76 596.65,68.54 609.04,33.05 621.43,83.59 633.83,141.65 646.22,141.65 658.61,141.65 671,141.65" fill="none" stroke="#997300" stroke-width="1.0" stroke-linejoin="round"/>
<g fill="#997300"><circle cx="385.99" cy="143.78" r="1.8"/><circle cx="398.38" cy="142.96" r="1.8"/><circle cx="410.78" cy="144.1" r="1.8"/><circle cx="423.17" cy="144.1" r="1.8"/><circle cx="435.56" cy="143.78" r="1.8"/><circle cx="447.95" cy="144.43" r="1.8"/><circle cx="460.34" cy="146.72" r="1.8"/><circle cx="472.73" cy="146.07" r="1.8"/><circle cx="485.12" cy="141.65" r="1.8"/><circle cx="497.52" cy="132.16" r="1.8"/><circle cx="509.91" cy="122.68" r="1.8"/><circle cx="522.3" cy="123.17" r="1.8"/><circle cx="534.69" cy="118.92" r="1.8"/><circle cx="547.08" cy="125.29" r="1.8"/><circle cx="559.48" cy="136.09" r="1.8"/><circle cx="571.87" cy="113.03" r="1.8"/><circle cx="584.26" cy="100.76" r="1.8"/><circle cx="596.65" cy="68.54" r="1.8"/><circle cx="609.04" cy="33.05" r="1.8"/><circle cx="621.43" cy="83.59" r="1.8"/><circle cx="633.83" cy="141.65" r="1.8"/><circle cx="646.22" cy="141.65" r="1.8"/><circle cx="658.61" cy="141.65" r="1.8"/><circle cx="671" cy="141.65" r="1.8"/></g>
<line x1="392" y1="9.9" x2="403.6" y2="9.9" stroke="#4472C4" stroke-width="1.1"/><circle cx="397.8" cy="9.9" r="1.7" fill="#4472C4"/><text x="404.8" y="11.77" style="font-family:'Liberation Sans'" font-size="5.2" font-weight="bold" fill="#222">S1</text><line x1="418.8" y1="9.9" x2="430.4" y2="9.9" stroke="#ED7D31" stroke-width="1.1"/><circle cx="424.6" cy="9.9" r="1.7" fill="#ED7D31"/><text x="431.6" y="11.77" style="font-family:'Liberation Sans'" font-size="5.2" font-weight="bold" fill="#222">S2</text><line x1="445.6" y1="9.9" x2="457.2" y2="9.9" stroke="#A5A5A5" stroke-width="1.1"/><circle cx="451.4" cy="9.9" r="1.7" fill="#A5A5A5"/><text x="458.4" y="11.77" style="font-family:'Liberation Sans'" font-size="5.2" font-weight="bold" fill="#222">S3</text><line x1="472.4" y1="9.9" x2="484" y2="9.9" stroke="#FFC000" stroke-width="1.1"/><circle cx="478.2" cy="9.9" r="1.7" fill="#FFC000"/><text x="485.2" y="11.77" style="font-family:'Liberation Sans'" font-size="5.2" font-weight="bold" fill="#222">S4</text><line x1="499.2" y1="9.9" x2="510.8" y2="9.9" stroke="#5B9BD5" stroke-width="1.1"/><circle cx="505" cy="9.9" r="1.7" fill="#5B9BD5"/><text x="512" y="11.77" style="font-family:'Liberation Sans'" font-size="5.2" font-weight="bold" fill="#222">S5</text><line x1="526" y1="9.9" x2="537.6" y2="9.9" stroke="#70AD47" stroke-width="1.1"/><circle cx="531.8" cy="9.9" r="1.7" fill="#70AD47"/><text x="538.8" y="11.77" style="font-family:'Liberation Sans'" font-size="5.2" font-weight="bold" fill="#222">S6</text><line x1="552.8" y1="9.9" x2="564.4" y2="9.9" stroke="#264478" stroke-width="1.1"/><circle cx="558.6" cy="9.9" r="1.7" fill="#264478"/><text x="565.6" y="11.77" style="font-family:'Liberation Sans'" font-size="5.2" font-weight="bold" fill="#222">S7</text><line x1="579.6" y1="9.9" x2="591.2" y2="9.9" stroke="#9E480E" stroke-width="1.1"/><circle cx="585.4" cy="9.9" r="1.7" fill="#9E480E"/><text x="592.4" y="11.77" style="font-family:'Liberation Sans'" font-size="5.2" font-weight="bold" fill="#222">S8</text><line x1="606.4" y1="9.9" x2="618" y2="9.9" stroke="#636363" stroke-width="1.1"/><circle cx="612.2" cy="9.9" r="1.7" fill="#636363"/><text x="619.2" y="11.77" style="font-family:'Liberation Sans'" font-size="5.2" font-weight="bold" fill="#222">S9</text><line x1="633.2" y1="9.9" x2="644.8" y2="9.9" stroke="#997300" stroke-width="1.1"/><circle cx="639" cy="9.9" r="1.7" fill="#997300"/><text x="646" y="11.77" style="font-family:'Liberation Sans'" font-size="5.2" font-weight="bold" fill="#222">S10</text>
<text x="505.6" y="170.6" font-size="6.7" font-weight="bold" fill="#222" textLength="35.3" lengthAdjust="spacingAndGlyphs">Time (hour)</text>
<text transform="translate(357.1,129.6) rotate(-90)" font-size="6.6" font-weight="bold" fill="#111" textLength="93.6" lengthAdjust="spacingAndGlyphs">Load of Residential Building (kW)</text>
<text x="477.2" y="192" style="font-family:'Liberation Serif',serif" font-size="17" fill="#111">(b)</text>
<g stroke="#E3E3E3" stroke-width="0.6"><line x1="54.46" y1="211.4" x2="54.46" y2="352.4"/><line x1="79.52" y1="211.4" x2="79.52" y2="352.4"/><line x1="104.58" y1="211.4" x2="104.58" y2="352.4"/><line x1="129.63" y1="211.4" x2="129.63" y2="352.4"/><line x1="154.69" y1="211.4" x2="154.69" y2="352.4"/><line x1="179.75" y1="211.4" x2="179.75" y2="352.4"/><line x1="204.81" y1="211.4" x2="204.81" y2="352.4"/><line x1="229.87" y1="211.4" x2="229.87" y2="352.4"/><line x1="254.93" y1="211.4" x2="254.93" y2="352.4"/><line x1="279.98" y1="211.4" x2="279.98" y2="352.4"/><line x1="305.04" y1="211.4" x2="305.04" y2="352.4"/><line x1="29.4" y1="334.77" x2="330.1" y2="334.77"/><line x1="29.4" y1="317.15" x2="330.1" y2="317.15"/><line x1="29.4" y1="299.52" x2="330.1" y2="299.52"/><line x1="29.4" y1="281.9" x2="330.1" y2="281.9"/><line x1="29.4" y1="264.27" x2="330.1" y2="264.27"/><line x1="29.4" y1="246.65" x2="330.1" y2="246.65"/><line x1="29.4" y1="229.03" x2="330.1" y2="229.03"/></g>
<line x1="29.4" y1="211.4" x2="330.1" y2="211.4" stroke="#333" stroke-width="1.2"/>
<line x1="330.1" y1="211.4" x2="330.1" y2="352.4" stroke="#333" stroke-width="1.2"/>
<line x1="29.4" y1="211.4" x2="29.4" y2="352.4" stroke="#A8A8A8" stroke-width="1.8"/>
<line x1="28.9" y1="352.4" x2="330.1" y2="352.4" stroke="#333" stroke-width="1.5"/>
<g stroke="#333" stroke-width="0.8"><line x1="29.4" y1="334.77" x2="31.9" y2="334.77"/><line x1="29.4" y1="317.15" x2="31.9" y2="317.15"/><line x1="29.4" y1="299.52" x2="31.9" y2="299.52"/><line x1="29.4" y1="281.9" x2="31.9" y2="281.9"/><line x1="29.4" y1="264.27" x2="31.9" y2="264.27"/><line x1="29.4" y1="246.65" x2="31.9" y2="246.65"/><line x1="29.4" y1="229.03" x2="31.9" y2="229.03"/><line x1="54.46" y1="352.4" x2="54.46" y2="349.9"/><line x1="79.52" y1="352.4" x2="79.52" y2="349.9"/><line x1="104.58" y1="352.4" x2="104.58" y2="349.9"/><line x1="129.63" y1="352.4" x2="129.63" y2="349.9"/><line x1="154.69" y1="352.4" x2="154.69" y2="349.9"/><line x1="179.75" y1="352.4" x2="179.75" y2="349.9"/><line x1="204.81" y1="352.4" x2="204.81" y2="349.9"/><line x1="229.87" y1="352.4" x2="229.87" y2="349.9"/><line x1="254.93" y1="352.4" x2="254.93" y2="349.9"/><line x1="279.98" y1="352.4" x2="279.98" y2="349.9"/><line x1="305.04" y1="352.4" x2="305.04" y2="349.9"/></g>
<g font-size="6.3" font-weight="bold" fill="#222"><text x="23.5" y="354.67" text-anchor="end">0</text><text x="23.5" y="337.04" text-anchor="end">1</text><text x="23.5" y="319.42" text-anchor="end">2</text><text x="23.5" y="301.79" text-anchor="end">3</text><text x="23.5" y="284.17" text-anchor="end">4</text><text x="23.5" y="266.54" text-anchor="end">5</text><text x="23.5" y="248.92" text-anchor="end">6</text><text x="23.5" y="231.29" text-anchor="end">7</text><text x="23.5" y="213.67" text-anchor="end">8</text><text x="29.4" y="363.5" text-anchor="middle">0</text><text x="54.46" y="363.5" text-anchor="middle">2</text><text x="79.52" y="363.5" text-anchor="middle">4</text><text x="104.58" y="363.5" text-anchor="middle">6</text><text x="129.63" y="363.5" text-anchor="middle">8</text><text x="154.69" y="363.5" text-anchor="middle">10</text><text x="179.75" y="363.5" text-anchor="middle">12</text><text x="204.81" y="363.5" text-anchor="middle">14</text><text x="229.87" y="363.5" text-anchor="middle">16</text><text x="254.93" y="363.5" text-anchor="middle">18</text><text x="279.98" y="363.5" text-anchor="middle">20</text><text x="305.04" y="363.5" text-anchor="middle">22</text><text x="330.1" y="363.5" text-anchor="middle">24</text></g>
<polyline points="41.93,349.76 54.46,350.28 66.99,350.28 79.52,348.88 92.05,346.58 104.58,349.76 117.1,350.64 129.63,348.88 142.16,317.15 154.69,275.56 167.22,272.21 179.75,225.5 192.28,252.82 204.81,303.93 217.34,313.62 229.87,254.58 242.4,241.36 254.93,268.15 267.45,299.52 279.98,324.2 292.51,346.23 305.04,349.76 317.57,348.88 330.1,347.99" fill="none" stroke="#4472C4" stroke-width="1.0" stroke-linejoin="round"/>
<g fill="#4472C4"><circle cx="41.93" cy="349.76" r="1.8"/><circle cx="54.46" cy="350.28" r="1.8"/><circle cx="66.99" cy="350.28" r="1.8"/><circle cx="79.52" cy="348.88" r="1.8"/><circle cx="92.05" cy="346.58" r="1.8"/><circle cx="104.58" cy="349.76" r="1.8"/><circle cx="117.1" cy="350.64" r="1.8"/><circle cx="129.63" cy="348.88" r="1.8"/><circle cx="142.16" cy="317.15" r="1.8"/><circle cx="154.69" cy="275.56" r="1.8"/><circle cx="167.22" cy="272.21" r="1.8"/><circle cx="179.75" cy="225.5" r="1.8"/><circle cx="192.28" cy="252.82" r="1.8"/><circle cx="204.81" cy="303.93" r="1.8"/><circle cx="217.34" cy="313.62" r="1.8"/><circle cx="229.87" cy="254.58" r="1.8"/><circle cx="242.4" cy="241.36" r="1.8"/><circle cx="254.93" cy="268.15" r="1.8"/><circle cx="267.45" cy="299.52" r="1.8"/><circle cx="279.98" cy="324.2" r="1.8"/><circle cx="292.51" cy="346.23" r="1.8"/><circle cx="305.04" cy="349.76" r="1.8"/><circle cx="317.57" cy="348.88" r="1.8"/><circle cx="330.1" cy="347.99" r="1.8"/></g>
<polyline points="41.93,348.88 54.46,350.28 66.99,350.28 79.52,347.99 92.05,349.76 104.58,350.28 117.1,350.64 129.63,348.88 142.16,325.96 154.69,279.26 167.22,297.59 179.75,286.48 192.28,272.91 204.81,301.29 217.34,321.73 229.87,280.84 242.4,275.38 254.93,285.07 267.45,306.57 279.98,336.36 292.51,347.11 305.04,349.76 317.57,349.76 330.1,348.88" fill="none" stroke="#ED7D31" stroke-width="1.0" stroke-linejoin="round"/>
<g fill="#ED7D31"><circle cx="41.93" cy="348.88" r="1.8"/><circle cx="54.46" cy="350.28" r="1.8"/><circle cx="66.99" cy="350.28" r="1.8"/><circle cx="79.52" cy="347.99" r="1.8"/><circle cx="92.05" cy="349.76" r="1.8"/><circle cx="104.58" cy="350.28" r="1.8"/><circle cx="117.1" cy="350.64" r="1.8"/><circle cx="129.63" cy="348.88" r="1.8"/><circle cx="142.16" cy="325.96" r="1.8"/><circle cx="154.69" cy="279.26" r="1.8"/><circle cx="167.22" cy="297.59" r="1.8"/><circle cx="179.75" cy="286.48" r="1.8"/><circle cx="192.28" cy="272.91" r="1.8"/><circle cx="204.81" cy="301.29" r="1.8"/><circle cx="217.34" cy="321.73" r="1.8"/><circle cx="229.87" cy="280.84" r="1.8"/><circle cx="242.4" cy="275.38" r="1.8"/><circle cx="254.93" cy="285.07" r="1.8"/><circle cx="267.45" cy="306.57" r="1.8"/><circle cx="279.98" cy="336.36" r="1.8"/><circle cx="292.51" cy="347.11" r="1.8"/><circle cx="305.04" cy="349.76" r="1.8"/><circle cx="317.57" cy="349.76" r="1.8"/><circle cx="330.1" cy="348.88" r="1.8"/></g>
<polyline points="41.93,349.76 54.46,350.28 66.99,350.28 79.52,349.76 92.05,349.76 104.58,350.28 117.1,350.64 129.63,348.52 142.16,324.2 154.69,315.03 167.22,299.7 179.75,313.27 192.28,314.33 204.81,303.93 217.34,325.26 229.87,255.46 242.4,226.38 254.93,230.79 267.45,276.44 279.98,317.15 292.51,345.35 305.04,349.76 317.57,347.11 330.1,347.11" fill="none" stroke="#A5A5A5" stroke-width="1.0" stroke-linejoin="round"/>
<g fill="#A5A5A5"><circle cx="41.93" cy="349.76" r="1.8"/><circle cx="54.46" cy="350.28" r="1.8"/><circle cx="66.99" cy="350.28" r="1.8"/><circle cx="79.52" cy="349.76" r="1.8"/><circle cx="92.05" cy="349.76" r="1.8"/><circle cx="104.58" cy="350.28" r="1.8"/><circle cx="117.1" cy="350.64" r="1.8"/><circle cx="129.63" cy="348.52" r="1.8"/><circle cx="142.16" cy="324.2" r="1.8"/><circle cx="154.69" cy="315.03" r="1.8"/><circle cx="167.22" cy="299.7" r="1.8"/><circle cx="179.75" cy="313.27" r="1.8"/><circle cx="192.28" cy="314.33" r="1.8"/><circle cx="204.81" cy="303.93" r="1.8"/><circle cx="217.34" cy="325.26" r="1.8"/><circle cx="229.87" cy="255.46" r="1.8"/><circle cx="242.4" cy="226.38" r="1.8"/><circle cx="254.93" cy="230.79" r="1.8"/><circle cx="267.45" cy="276.44" r="1.8"/><circle cx="279.98" cy="317.15" r="1.8"/><circle cx="292.51" cy="345.35" r="1.8"/><circle cx="305.04" cy="349.76" r="1.8"/><circle cx="317.57" cy="347.11" r="1.8"/><circle cx="330.1" cy="347.11" r="1.8"/></g>
<polyline points="41.93,350.28 54.46,350.28 66.99,350.28 79.52,349.76 92.05,349.76 104.58,350.28 117.1,350.64 129.63,348.88 142.16,305.87 154.69,281.9 167.22,267.45 179.75,231.49 192.28,255.46 204.81,322.44 217.34,320.67 229.87,296.7 242.4,241.36 254.93,248.24 267.45,311.33 279.98,331.25 292.51,347.11 305.04,350.64 317.57,349.76 330.1,348.88" fill="none" stroke="#FFC000" stroke-width="1.0" stroke-linejoin="round"/>
<g fill="#FFC000"><circle cx="41.93" cy="350.28" r="1.8"/><circle cx="54.46" cy="350.28" r="1.8"/><circle cx="66.99" cy="350.28" r="1.8"/><circle cx="79.52" cy="349.76" r="1.8"/><circle cx="92.05" cy="349.76" r="1.8"/><circle cx="104.58" cy="350.28" r="1.8"/><circle cx="117.1" cy="350.64" r="1.8"/><circle cx="129.63" cy="348.88" r="1.8"/><circle cx="142.16" cy="305.87" r="1.8"/><circle cx="154.69" cy="281.9" r="1.8"/><circle cx="167.22" cy="267.45" r="1.8"/><circle cx="179.75" cy="231.49" r="1.8"/><circle cx="192.28" cy="255.46" r="1.8"/><circle cx="204.81" cy="322.44" r="1.8"/><circle cx="217.34" cy="320.67" r="1.8"/><circle cx="229.87" cy="296.7" r="1.8"/><circle cx="242.4" cy="241.36" r="1.8"/><circle cx="254.93" cy="248.24" r="1.8"/><circle cx="267.45" cy="311.33" r="1.8"/><circle cx="279.98" cy="331.25" r="1.8"/><circle cx="292.51" cy="347.11" r="1.8"/><circle cx="305.04" cy="350.64" r="1.8"/><circle cx="317.57" cy="349.76" r="1.8"/><circle cx="330.1" cy="348.88" r="1.8"/></g>
<polyline points="41.93,350.28 54.46,350.28 66.99,350.28 79.52,349.76 92.05,349.76 104.58,348.52 117.1,350.64 129.63,348.88 142.16,313.62 154.69,283.66 167.22,271.85 179.75,229.73 192.28,249.82 204.81,313.27 217.34,331.6 229.87,302.17 242.4,285.78 254.93,221.45 267.45,303.05 279.98,329.49 292.51,347.11 305.04,350.64 317.57,349.76 330.1,348.88" fill="none" stroke="#5B9BD5" stroke-width="1.0" stroke-linejoin="round"/>
<g fill="#5B9BD5"><circle cx="41.93" cy="350.28" r="1.8"/><circle cx="54.46" cy="350.28" r="1.8"/><circle cx="66.99" cy="350.28" r="1.8"/><circle cx="79.52" cy="349.76" r="1.8"/><circle cx="92.05" cy="349.76" r="1.8"/><circle cx="104.58" cy="348.52" r="1.8"/><circle cx="117.1" cy="350.64" r="1.8"/><circle cx="129.63" cy="348.88" r="1.8"/><circle cx="142.16" cy="313.62" r="1.8"/><circle cx="154.69" cy="283.66" r="1.8"/><circle cx="167.22" cy="271.85" r="1.8"/><circle cx="179.75" cy="229.73" r="1.8"/><circle cx="192.28" cy="249.82" r="1.8"/><circle cx="204.81" cy="313.27" r="1.8"/><circle cx="217.34" cy="331.6" r="1.8"/><circle cx="229.87" cy="302.17" r="1.8"/><circle cx="242.4" cy="285.78" r="1.8"/><circle cx="254.93" cy="221.45" r="1.8"/><circle cx="267.45" cy="303.05" r="1.8"/><circle cx="279.98" cy="329.49" r="1.8"/><circle cx="292.51" cy="347.11" r="1.8"/><circle cx="305.04" cy="350.64" r="1.8"/><circle cx="317.57" cy="349.76" r="1.8"/><circle cx="330.1" cy="348.88" r="1.8"/></g>
<polyline points="41.93,350.28 54.46,350.28 66.99,350.28 79.52,349.76 92.05,349.76 104.58,350.28 117.1,350.64 129.63,348.88 142.16,311.33 154.69,301.11 167.22,290.71 179.75,241.71 192.28,258.11 204.81,273.97 217.34,297.59 229.87,233.61 242.4,237.84 254.93,227.62 267.45,296 279.98,325.96 292.51,347.11 305.04,350.64 317.57,349.76 330.1,348.88" fill="none" stroke="#70AD47" stroke-width="1.0" stroke-linejoin="round"/>
<g fill="#70AD47"><circle cx="41.93" cy="350.28" r="1.8"/><circle cx="54.46" cy="350.28" r="1.8"/><circle cx="66.99" cy="350.28" r="1.8"/><circle cx="79.52" cy="349.76" r="1.8"/><circle cx="92.05" cy="349.76" r="1.8"/><circle cx="104.58" cy="350.28" r="1.8"/><circle cx="117.1" cy="350.64" r="1.8"/><circle cx="129.63" cy="348.88" r="1.8"/><circle cx="142.16" cy="311.33" r="1.8"/><circle cx="154.69" cy="301.11" r="1.8"/><circle cx="167.22" cy="290.71" r="1.8"/><circle cx="179.75" cy="241.71" r="1.8"/><circle cx="192.28" cy="258.11" r="1.8"/><circle cx="204.81" cy="273.97" r="1.8"/><circle cx="217.34" cy="297.59" r="1.8"/><circle cx="229.87" cy="233.61" r="1.8"/><circle cx="242.4" cy="237.84" r="1.8"/><circle cx="254.93" cy="227.62" r="1.8"/><circle cx="267.45" cy="296" r="1.8"/><circle cx="279.98" cy="325.96" r="1.8"/><circle cx="292.51" cy="347.11" r="1.8"/><circle cx="305.04" cy="350.64" r="1.8"/><circle cx="317.57" cy="349.76" r="1.8"/><circle cx="330.1" cy="348.88" r="1.8"/></g>
<polyline points="41.93,350.28 54.46,350.28 66.99,350.28 79.52,349.76 92.05,349.76 104.58,350.28 117.1,350.64 129.63,348.88 142.16,317.15 154.69,276.61 167.22,285.07 179.75,222.68 192.28,267.45 204.81,303.05 217.34,313.62 229.87,280.84 242.4,243.48 254.93,230.61 267.45,297.41 279.98,322.44 292.51,346.23 305.04,349.76 317.57,348.88 330.1,347.99" fill="none" stroke="#264478" stroke-width="1.0" stroke-linejoin="round"/>
<g fill="#264478"><circle cx="41.93" cy="350.28" r="1.8"/><circle cx="54.46" cy="350.28" r="1.8"/><circle cx="66.99" cy="350.28" r="1.8"/><circle cx="79.52" cy="349.76" r="1.8"/><circle cx="92.05" cy="349.76" r="1.8"/><circle cx="104.58" cy="350.28" r="1.8"/><circle cx="117.1" cy="350.64" r="1.8"/><circle cx="129.63" cy="348.88" r="1.8"/><circle cx="142.16" cy="317.15" r="1.8"/><circle cx="154.69" cy="276.61" r="1.8"/><circle cx="167.22" cy="285.07" r="1.8"/><circle cx="179.75" cy="222.68" r="1.8"/><circle cx="192.28" cy="267.45" r="1.8"/><circle cx="204.81" cy="303.05" r="1.8"/><circle cx="217.34" cy="313.62" r="1.8"/><circle cx="229.87" cy="280.84" r="1.8"/><circle cx="242.4" cy="243.48" r="1.8"/><circle cx="254.93" cy="230.61" r="1.8"/><circle cx="267.45" cy="297.41" r="1.8"/><circle cx="279.98" cy="322.44" r="1.8"/><circle cx="292.51" cy="346.23" r="1.8"/><circle cx="305.04" cy="349.76" r="1.8"/><circle cx="317.57" cy="348.88" r="1.8"/><circle cx="330.1" cy="347.99" r="1.8"/></g>
<polyline points="41.93,348.52 54.46,350.28 66.99,350.28 79.52,347.64 92.05,349.76 104.58,350.28 117.1,350.64 129.63,348.88 142.16,335.3 154.69,321.73 167.22,294.24 179.75,271.85 192.28,306.93 204.81,336.36 217.34,321.73 229.87,324.2 242.4,294.06 254.93,285.07 267.45,304.81 279.98,327.72 292.51,346.23 305.04,346.23 317.57,349.76 330.1,348.88" fill="none" stroke="#9E480E" stroke-width="1.0" stroke-linejoin="round"/>
<g fill="#9E480E"><circle cx="41.93" cy="348.52" r="1.8"/><circle cx="54.46" cy="350.28" r="1.8"/><circle cx="66.99" cy="350.28" r="1.8"/><circle cx="79.52" cy="347.64" r="1.8"/><circle cx="92.05" cy="349.76" r="1.8"/><circle cx="104.58" cy="350.28" r="1.8"/><circle cx="117.1" cy="350.64" r="1.8"/><circle cx="129.63" cy="348.88" r="1.8"/><circle cx="142.16" cy="335.3" r="1.8"/><circle cx="154.69" cy="321.73" r="1.8"/><circle cx="167.22" cy="294.24" r="1.8"/><circle cx="179.75" cy="271.85" r="1.8"/><circle cx="192.28" cy="306.93" r="1.8"/><circle cx="204.81" cy="336.36" r="1.8"/><circle cx="217.34" cy="321.73" r="1.8"/><circle cx="229.87" cy="324.2" r="1.8"/><circle cx="242.4" cy="294.06" r="1.8"/><circle cx="254.93" cy="285.07" r="1.8"/><circle cx="267.45" cy="304.81" r="1.8"/><circle cx="279.98" cy="327.72" r="1.8"/><circle cx="292.51" cy="346.23" r="1.8"/><circle cx="305.04" cy="346.23" r="1.8"/><circle cx="317.57" cy="349.76" r="1.8"/><circle cx="330.1" cy="348.88" r="1.8"/></g>
<polyline points="41.93,349.76 54.46,350.28 66.99,350.28 79.52,349.76 92.05,349.76 104.58,350.28 117.1,350.64 129.63,348.52 142.16,328.96 154.69,317.15 167.22,292.3 179.75,265.51 192.28,315.74 204.81,303.93 217.34,313.27 229.87,316.97 242.4,246.65 254.93,236.25 267.45,290.71 279.98,314.33 292.51,340.77 305.04,348.88 317.57,347.11 330.1,346.23" fill="none" stroke="#636363" stroke-width="1.0" stroke-linejoin="round"/>
<g fill="#636363"><circle cx="41.93" cy="349.76" r="1.8"/><circle cx="54.46" cy="350.28" r="1.8"/><circle cx="66.99" cy="350.28" r="1.8"/><circle cx="79.52" cy="349.76" r="1.8"/><circle cx="92.05" cy="349.76" r="1.8"/><circle cx="104.58" cy="350.28" r="1.8"/><circle cx="117.1" cy="350.64" r="1.8"/><circle cx="129.63" cy="348.52" r="1.8"/><circle cx="142.16" cy="328.96" r="1.8"/><circle cx="154.69" cy="317.15" r="1.8"/><circle cx="167.22" cy="292.3" r="1.8"/><circle cx="179.75" cy="265.51" r="1.8"/><circle cx="192.28" cy="315.74" r="1.8"/><circle cx="204.81" cy="303.93" r="1.8"/><circle cx="217.34" cy="313.27" r="1.8"/><circle cx="229.87" cy="316.97" r="1.8"/><circle cx="242.4" cy="246.65" r="1.8"/><circle cx="254.93" cy="236.25" r="1.8"/><circle cx="267.45" cy="290.71" r="1.8"/><circle cx="279.98" cy="314.33" r="1.8"/><circle cx="292.51" cy="340.77" r="1.8"/><circle cx="305.04" cy="348.88" r="1.8"/><circle cx="317.57" cy="347.11" r="1.8"/><circle cx="330.1" cy="346.23" r="1.8"/></g>
<polyline points="41.93,350.81 54.46,350.28 66.99,350.28 79.52,350.28 92.05,350.28 104.58,350.64 117.1,350.64 129.63,339.53 142.16,320.67 154.69,294.94 167.22,261.63 179.75,273.62 192.28,263.75 204.81,278.38 217.34,305.87 229.87,261.98 242.4,233.61 254.93,227.62 267.45,290.71 279.98,320.67 292.51,349.76 305.04,350.28 317.57,350.28 330.1,349.76" fill="none" stroke="#997300" stroke-width="1.0" stroke-linejoin="round"/>
<g fill="#997300"><circle cx="41.93" cy="350.81" r="1.8"/><circle cx="54.46" cy="350.28" r="1.8"/><circle cx="66.99" cy="350.28" r="1.8"/><circle cx="79.52" cy="350.28" r="1.8"/><circle cx="92.05" cy="350.28" r="1.8"/><circle cx="104.58" cy="350.64" r="1.8"/><circle cx="117.1" cy="350.64" r="1.8"/><circle cx="129.63" cy="339.53" r="1.8"/><circle cx="142.16" cy="320.67" r="1.8"/><circle cx="154.69" cy="294.94" r="1.8"/><circle cx="167.22" cy="261.63" r="1.8"/><circle cx="179.75" cy="273.62" r="1.8"/><circle cx="192.28" cy="263.75" r="1.8"/><circle cx="204.81" cy="278.38" r="1.8"/><circle cx="217.34" cy="305.87" r="1.8"/><circle cx="229.87" cy="261.98" r="1.8"/><circle cx="242.4" cy="233.61" r="1.8"/><circle cx="254.93" cy="227.62" r="1.8"/><circle cx="267.45" cy="290.71" r="1.8"/><circle cx="279.98" cy="320.67" r="1.8"/><circle cx="292.51" cy="349.76" r="1.8"/><circle cx="305.04" cy="350.28" r="1.8"/><circle cx="317.57" cy="350.28" r="1.8"/><circle cx="330.1" cy="349.76" r="1.8"/></g>
<line x1="47.8" y1="218.6" x2="59.6" y2="218.6" stroke="#4472C4" stroke-width="1.1"/><circle cx="53.7" cy="218.6" r="1.9" fill="#4472C4"/><text x="60.8" y="220.98" style="font-family:'Liberation Serif'" font-size="6.6" font-weight="bold" fill="#222">S1</text><line x1="74.9" y1="218.6" x2="86.7" y2="218.6" stroke="#ED7D31" stroke-width="1.1"/><circle cx="80.8" cy="218.6" r="1.9" fill="#ED7D31"/><text x="87.9" y="220.98" style="font-family:'Liberation Serif'" font-size="6.6" font-weight="bold" fill="#222">S2</text><line x1="102" y1="218.6" x2="113.8" y2="218.6" stroke="#A5A5A5" stroke-width="1.1"/><circle cx="107.9" cy="218.6" r="1.9" fill="#A5A5A5"/><text x="115" y="220.98" style="font-family:'Liberation Serif'" font-size="6.6" font-weight="bold" fill="#222">S3</text><line x1="129.1" y1="218.6" x2="140.9" y2="218.6" stroke="#FFC000" stroke-width="1.1"/><circle cx="135" cy="218.6" r="1.9" fill="#FFC000"/><text x="142.1" y="220.98" style="font-family:'Liberation Serif'" font-size="6.6" font-weight="bold" fill="#222">S4</text><line x1="156.2" y1="218.6" x2="168" y2="218.6" stroke="#5B9BD5" stroke-width="1.1"/><circle cx="162.1" cy="218.6" r="1.9" fill="#5B9BD5"/><text x="169.2" y="220.98" style="font-family:'Liberation Serif'" font-size="6.6" font-weight="bold" fill="#222">S5</text><line x1="183.3" y1="218.6" x2="195.1" y2="218.6" stroke="#70AD47" stroke-width="1.1"/><circle cx="189.2" cy="218.6" r="1.9" fill="#70AD47"/><text x="196.3" y="220.98" style="font-family:'Liberation Serif'" font-size="6.6" font-weight="bold" fill="#222">S6</text><line x1="210.4" y1="218.6" x2="222.2" y2="218.6" stroke="#264478" stroke-width="1.1"/><circle cx="216.3" cy="218.6" r="1.9" fill="#264478"/><text x="223.4" y="220.98" style="font-family:'Liberation Serif'" font-size="6.6" font-weight="bold" fill="#222">S7</text><line x1="237.5" y1="218.6" x2="249.3" y2="218.6" stroke="#9E480E" stroke-width="1.1"/><circle cx="243.4" cy="218.6" r="1.9" fill="#9E480E"/><text x="250.5" y="220.98" style="font-family:'Liberation Serif'" font-size="6.6" font-weight="bold" fill="#222">S8</text><line x1="264.6" y1="218.6" x2="276.4" y2="218.6" stroke="#636363" stroke-width="1.1"/><circle cx="270.5" cy="218.6" r="1.9" fill="#636363"/><text x="277.6" y="220.98" style="font-family:'Liberation Serif'" font-size="6.6" font-weight="bold" fill="#222">S9</text><line x1="291.7" y1="218.6" x2="303.5" y2="218.6" stroke="#997300" stroke-width="1.1"/><circle cx="297.6" cy="218.6" r="1.9" fill="#997300"/><text x="304.7" y="220.98" style="font-family:'Liberation Serif'" font-size="6.6" font-weight="bold" fill="#222">S10</text>
<text x="162.4" y="373.6" font-size="6.7" font-weight="bold" fill="#222" textLength="35.8" lengthAdjust="spacingAndGlyphs">Time (hour)</text>
<text transform="translate(13,337.7) rotate(-90)" font-size="6.8" font-weight="normal" fill="#111" textLength="103.2" lengthAdjust="spacingAndGlyphs">Load of Commercial Building I (kW)</text>
<text x="149.1" y="404.5" style="font-family:'Liberation Serif',serif" font-size="17" fill="#111">(c)</text>
<g stroke="#E3E3E3" stroke-width="0.6"><line x1="401.25" y1="208.6" x2="401.25" y2="351.9"/><line x1="426.7" y1="208.6" x2="426.7" y2="351.9"/><line x1="452.15" y1="208.6" x2="452.15" y2="351.9"/><line x1="477.6" y1="208.6" x2="477.6" y2="351.9"/><line x1="503.05" y1="208.6" x2="503.05" y2="351.9"/><line x1="528.5" y1="208.6" x2="528.5" y2="351.9"/><line x1="553.95" y1="208.6" x2="553.95" y2="351.9"/><line x1="579.4" y1="208.6" x2="579.4" y2="351.9"/><line x1="604.85" y1="208.6" x2="604.85" y2="351.9"/><line x1="630.3" y1="208.6" x2="630.3" y2="351.9"/><line x1="655.75" y1="208.6" x2="655.75" y2="351.9"/><line x1="375.8" y1="335.98" x2="681.2" y2="335.98"/><line x1="375.8" y1="320.06" x2="681.2" y2="320.06"/><line x1="375.8" y1="304.13" x2="681.2" y2="304.13"/><line x1="375.8" y1="288.21" x2="681.2" y2="288.21"/><line x1="375.8" y1="272.29" x2="681.2" y2="272.29"/><line x1="375.8" y1="256.37" x2="681.2" y2="256.37"/><line x1="375.8" y1="240.44" x2="681.2" y2="240.44"/><line x1="375.8" y1="224.52" x2="681.2" y2="224.52"/></g>
<line x1="375.8" y1="208.6" x2="681.2" y2="208.6" stroke="#333" stroke-width="1.2"/>
<line x1="681.2" y1="208.6" x2="681.2" y2="351.9" stroke="#333" stroke-width="1.2"/>
<line x1="375.8" y1="208.6" x2="375.8" y2="351.9" stroke="#333" stroke-width="1.2"/>
<line x1="375.3" y1="351.9" x2="681.2" y2="351.9" stroke="#333" stroke-width="1.5"/>
<g stroke="#333" stroke-width="0.8"><line x1="375.8" y1="335.98" x2="378.3" y2="335.98"/><line x1="375.8" y1="320.06" x2="378.3" y2="320.06"/><line x1="375.8" y1="304.13" x2="378.3" y2="304.13"/><line x1="375.8" y1="288.21" x2="378.3" y2="288.21"/><line x1="375.8" y1="272.29" x2="378.3" y2="272.29"/><line x1="375.8" y1="256.37" x2="378.3" y2="256.37"/><line x1="375.8" y1="240.44" x2="378.3" y2="240.44"/><line x1="375.8" y1="224.52" x2="378.3" y2="224.52"/><line x1="401.25" y1="351.9" x2="401.25" y2="349.4"/><line x1="426.7" y1="351.9" x2="426.7" y2="349.4"/><line x1="452.15" y1="351.9" x2="452.15" y2="349.4"/><line x1="477.6" y1="351.9" x2="477.6" y2="349.4"/><line x1="503.05" y1="351.9" x2="503.05" y2="349.4"/><line x1="528.5" y1="351.9" x2="528.5" y2="349.4"/><line x1="553.95" y1="351.9" x2="553.95" y2="349.4"/><line x1="579.4" y1="351.9" x2="579.4" y2="349.4"/><line x1="604.85" y1="351.9" x2="604.85" y2="349.4"/><line x1="630.3" y1="351.9" x2="630.3" y2="349.4"/><line x1="655.75" y1="351.9" x2="655.75" y2="349.4"/></g>
<g font-size="6.3" font-weight="bold" fill="#222"><text x="370.5" y="354.17" text-anchor="end">0</text><text x="370.5" y="338.25" text-anchor="end">1</text><text x="370.5" y="322.32" text-anchor="end">2</text><text x="370.5" y="306.4" text-anchor="end">3</text><text x="370.5" y="290.48" text-anchor="end">4</text><text x="370.5" y="274.56" text-anchor="end">5</text><text x="370.5" y="258.63" text-anchor="end">6</text><text x="370.5" y="242.71" text-anchor="end">7</text><text x="370.5" y="226.79" text-anchor="end">8</text><text x="370.5" y="210.87" text-anchor="end">9</text><text x="375.8" y="363" text-anchor="middle">0</text><text x="401.25" y="363" text-anchor="middle">2</text><text x="426.7" y="363" text-anchor="middle">4</text><text x="452.15" y="363" text-anchor="middle">6</text><text x="477.6" y="363" text-anchor="middle">8</text><text x="503.05" y="363" text-anchor="middle">10</text><text x="528.5" y="363" text-anchor="middle">12</text><text x="553.95" y="363" text-anchor="middle">14</text><text x="579.4" y="363" text-anchor="middle">16</text><text x="604.85" y="363" text-anchor="middle">18</text><text x="630.3" y="363" text-anchor="middle">20</text><text x="655.75" y="363" text-anchor="middle">22</text><text x="681.2" y="363" text-anchor="middle">24</text></g>
<polyline points="388.53,349.51 401.25,349.67 413.98,349.67 426.7,348.72 439.43,347.6 452.15,348.72 464.88,346.01 477.6,345.69 490.33,296.01 503.05,238.85 515.78,252.07 528.5,256.37 541.23,235.67 553.95,299.36 566.68,328.02 579.4,263.05 592.12,269.1 604.85,320.06 617.58,335.98 630.3,345.53 643.03,348.72 655.75,351.9 668.48,349.51 681.2,347.12" fill="none" stroke="#4472C4" stroke-width="1.0" stroke-linejoin="round"/>
<g fill="#4472C4"><circle cx="388.53" cy="349.51" r="1.8"/><circle cx="401.25" cy="349.67" r="1.8"/><circle cx="413.98" cy="349.67" r="1.8"/><circle cx="426.7" cy="348.72" r="1.8"/><circle cx="439.43" cy="347.6" r="1.8"/><circle cx="452.15" cy="348.72" r="1.8"/><circle cx="464.88" cy="346.01" r="1.8"/><circle cx="477.6" cy="345.69" r="1.8"/><circle cx="490.33" cy="296.01" r="1.8"/><circle cx="503.05" cy="238.85" r="1.8"/><circle cx="515.78" cy="252.07" r="1.8"/><circle cx="528.5" cy="256.37" r="1.8"/><circle cx="541.23" cy="235.67" r="1.8"/><circle cx="553.95" cy="299.36" r="1.8"/><circle cx="566.68" cy="328.02" r="1.8"/><circle cx="579.4" cy="263.05" r="1.8"/><circle cx="592.12" cy="269.1" r="1.8"/><circle cx="604.85" cy="320.06" r="1.8"/><circle cx="617.58" cy="335.98" r="1.8"/><circle cx="630.3" cy="345.53" r="1.8"/><circle cx="643.03" cy="348.72" r="1.8"/><circle cx="655.75" cy="351.9" r="1.8"/><circle cx="668.48" cy="349.51" r="1.8"/><circle cx="681.2" cy="347.12" r="1.8"/></g>
<polyline points="388.53,348.72 401.25,349.67 413.98,349.67 426.7,347.92 439.43,349.51 452.15,349.51 464.88,346.01 477.6,345.69 490.33,304.13 503.05,238.06 515.78,282.8 528.5,303.34 541.23,254.46 553.95,296.01 566.68,324.83 579.4,288.53 592.12,296.01 604.85,310.5 617.58,339.16 630.3,346.33 643.03,349.51 655.75,351.9 668.48,349.51 681.2,347.92" fill="none" stroke="#ED7D31" stroke-width="1.0" stroke-linejoin="round"/>
<g fill="#ED7D31"><circle cx="388.53" cy="348.72" r="1.8"/><circle cx="401.25" cy="349.67" r="1.8"/><circle cx="413.98" cy="349.67" r="1.8"/><circle cx="426.7" cy="347.92" r="1.8"/><circle cx="439.43" cy="349.51" r="1.8"/><circle cx="452.15" cy="349.51" r="1.8"/><circle cx="464.88" cy="346.01" r="1.8"/><circle cx="477.6" cy="345.69" r="1.8"/><circle cx="490.33" cy="304.13" r="1.8"/><circle cx="503.05" cy="238.06" r="1.8"/><circle cx="515.78" cy="282.8" r="1.8"/><circle cx="528.5" cy="303.34" r="1.8"/><circle cx="541.23" cy="254.46" r="1.8"/><circle cx="553.95" cy="296.01" r="1.8"/><circle cx="566.68" cy="324.83" r="1.8"/><circle cx="579.4" cy="288.53" r="1.8"/><circle cx="592.12" cy="296.01" r="1.8"/><circle cx="604.85" cy="310.5" r="1.8"/><circle cx="617.58" cy="339.16" r="1.8"/><circle cx="630.3" cy="346.33" r="1.8"/><circle cx="643.03" cy="349.51" r="1.8"/><circle cx="655.75" cy="351.9" r="1.8"/><circle cx="668.48" cy="349.51" r="1.8"/><circle cx="681.2" cy="347.92" r="1.8"/></g>
<polyline points="388.53,349.67 401.25,349.67 413.98,349.67 426.7,349.51 439.43,349.51 452.15,349.51 464.88,346.01 477.6,345.69 490.33,314.96 503.05,294.26 515.78,286.62 528.5,323.24 541.23,307.8 553.95,299.36 566.68,328.02 579.4,319.58 592.12,258.28 604.85,304.13 617.58,332.79 630.3,343.94 643.03,348.72 655.75,351.9 668.48,348.72 681.2,347.12" fill="none" stroke="#A5A5A5" stroke-width="1.0" stroke-linejoin="round"/>
<g fill="#A5A5A5"><circle cx="388.53" cy="349.67" r="1.8"/><circle cx="401.25" cy="349.67" r="1.8"/><circle cx="413.98" cy="349.67" r="1.8"/><circle cx="426.7" cy="349.51" r="1.8"/><circle cx="439.43" cy="349.51" r="1.8"/><circle cx="452.15" cy="349.51" r="1.8"/><circle cx="464.88" cy="346.01" r="1.8"/><circle cx="477.6" cy="345.69" r="1.8"/><circle cx="490.33" cy="314.96" r="1.8"/><circle cx="503.05" cy="294.26" r="1.8"/><circle cx="515.78" cy="286.62" r="1.8"/><circle cx="528.5" cy="323.24" r="1.8"/><circle cx="541.23" cy="307.8" r="1.8"/><circle cx="553.95" cy="299.36" r="1.8"/><circle cx="566.68" cy="328.02" r="1.8"/><circle cx="579.4" cy="319.58" r="1.8"/><circle cx="592.12" cy="258.28" r="1.8"/><circle cx="604.85" cy="304.13" r="1.8"/><circle cx="617.58" cy="332.79" r="1.8"/><circle cx="630.3" cy="343.94" r="1.8"/><circle cx="643.03" cy="348.72" r="1.8"/><circle cx="655.75" cy="351.9" r="1.8"/><circle cx="668.48" cy="348.72" r="1.8"/><circle cx="681.2" cy="347.12" r="1.8"/></g>
<polyline points="388.53,349.67 401.25,349.67 413.98,349.67 426.7,349.51 439.43,349.51 452.15,349.51 464.88,346.01 477.6,345.69 490.33,282.8 503.05,247.13 515.78,248.41 528.5,263.69 541.23,228.82 553.95,304.13 566.68,325.95 579.4,301.11 592.12,272.29 604.85,312.09 617.58,339.16 630.3,347.12 643.03,349.51 655.75,351.9 668.48,350.31 681.2,348.72" fill="none" stroke="#FFC000" stroke-width="1.0" stroke-linejoin="round"/>
<g fill="#FFC000"><circle cx="388.53" cy="349.67" r="1.8"/><circle cx="401.25" cy="349.67" r="1.8"/><circle cx="413.98" cy="349.67" r="1.8"/><circle cx="426.7" cy="349.51" r="1.8"/><circle cx="439.43" cy="349.51" r="1.8"/><circle cx="452.15" cy="349.51" r="1.8"/><circle cx="464.88" cy="346.01" r="1.8"/><circle cx="477.6" cy="345.69" r="1.8"/><circle cx="490.33" cy="282.8" r="1.8"/><circle cx="503.05" cy="247.13" r="1.8"/><circle cx="515.78" cy="248.41" r="1.8"/><circle cx="528.5" cy="263.69" r="1.8"/><circle cx="541.23" cy="228.82" r="1.8"/><circle cx="553.95" cy="304.13" r="1.8"/><circle cx="566.68" cy="325.95" r="1.8"/><circle cx="579.4" cy="301.11" r="1.8"/><circle cx="592.12" cy="272.29" r="1.8"/><circle cx="604.85" cy="312.09" r="1.8"/><circle cx="617.58" cy="339.16" r="1.8"/><circle cx="630.3" cy="347.12" r="1.8"/><circle cx="643.03" cy="349.51" r="1.8"/><circle cx="655.75" cy="351.9" r="1.8"/><circle cx="668.48" cy="350.31" r="1.8"/><circle cx="681.2" cy="348.72" r="1.8"/></g>
<polyline points="388.53,349.67 401.25,349.67 413.98,349.67 426.7,349.51 439.43,348.72 452.15,345.37 464.88,346.01 477.6,345.69 490.33,314.96 503.05,273.88 515.78,272.29 528.5,272.29 541.23,233.6 553.95,309.55 566.68,336.3 579.4,307 592.12,302.22 604.85,302.22 617.58,335.98 630.3,345.53 643.03,349.51 655.75,351.9 668.48,350.31 681.2,348.72" fill="none" stroke="#5B9BD5" stroke-width="1.0" stroke-linejoin="round"/>
<g fill="#5B9BD5"><circle cx="388.53" cy="349.67" r="1.8"/><circle cx="401.25" cy="349.67" r="1.8"/><circle cx="413.98" cy="349.67" r="1.8"/><circle cx="426.7" cy="349.51" r="1.8"/><circle cx="439.43" cy="348.72" r="1.8"/><circle cx="452.15" cy="345.37" r="1.8"/><circle cx="464.88" cy="346.01" r="1.8"/><circle cx="477.6" cy="345.69" r="1.8"/><circle cx="490.33" cy="314.96" r="1.8"/><circle cx="503.05" cy="273.88" r="1.8"/><circle cx="515.78" cy="272.29" r="1.8"/><circle cx="528.5" cy="272.29" r="1.8"/><circle cx="541.23" cy="233.6" r="1.8"/><circle cx="553.95" cy="309.55" r="1.8"/><circle cx="566.68" cy="336.3" r="1.8"/><circle cx="579.4" cy="307" r="1.8"/><circle cx="592.12" cy="302.22" r="1.8"/><circle cx="604.85" cy="302.22" r="1.8"/><circle cx="617.58" cy="335.98" r="1.8"/><circle cx="630.3" cy="345.53" r="1.8"/><circle cx="643.03" cy="349.51" r="1.8"/><circle cx="655.75" cy="351.9" r="1.8"/><circle cx="668.48" cy="350.31" r="1.8"/><circle cx="681.2" cy="348.72" r="1.8"/></g>
<polyline points="388.53,349.67 401.25,349.67 413.98,349.67 426.7,349.51 439.43,349.51 452.15,349.51 464.88,346.01 477.6,345.69 490.33,289.33 503.05,272.93 515.78,264.33 528.5,272.29 541.23,240.44 553.95,267.35 566.68,309.55 579.4,244.58 592.12,267.51 604.85,307.32 617.58,334.39 630.3,344.73 643.03,348.72 655.75,351.9 668.48,349.51 681.2,347.92" fill="none" stroke="#70AD47" stroke-width="1.0" stroke-linejoin="round"/>
<g fill="#70AD47"><circle cx="388.53" cy="349.67" r="1.8"/><circle cx="401.25" cy="349.67" r="1.8"/><circle cx="413.98" cy="349.67" r="1.8"/><circle cx="426.7" cy="349.51" r="1.8"/><circle cx="439.43" cy="349.51" r="1.8"/><circle cx="452.15" cy="349.51" r="1.8"/><circle cx="464.88" cy="346.01" r="1.8"/><circle cx="477.6" cy="345.69" r="1.8"/><circle cx="490.33" cy="289.33" r="1.8"/><circle cx="503.05" cy="272.93" r="1.8"/><circle cx="515.78" cy="264.33" r="1.8"/><circle cx="528.5" cy="272.29" r="1.8"/><circle cx="541.23" cy="240.44" r="1.8"/><circle cx="553.95" cy="267.35" r="1.8"/><circle cx="566.68" cy="309.55" r="1.8"/><circle cx="579.4" cy="244.58" r="1.8"/><circle cx="592.12" cy="267.51" r="1.8"/><circle cx="604.85" cy="307.32" r="1.8"/><circle cx="617.58" cy="334.39" r="1.8"/><circle cx="630.3" cy="344.73" r="1.8"/><circle cx="643.03" cy="348.72" r="1.8"/><circle cx="655.75" cy="351.9" r="1.8"/><circle cx="668.48" cy="349.51" r="1.8"/><circle cx="681.2" cy="347.92" r="1.8"/></g>
<polyline points="388.53,349.67 401.25,349.67 413.98,349.67 426.7,349.51 439.43,347.6 452.15,349.51 464.88,346.01 477.6,345.69 490.33,299.36 503.05,233.6 515.78,269.1 528.5,257.96 541.23,250.95 553.95,299.68 566.68,321.65 579.4,288.53 592.12,271.81 604.85,312.09 617.58,335.98 630.3,343.94 643.03,348.72 655.75,351.9 668.48,349.51 681.2,347.92" fill="none" stroke="#264478" stroke-width="1.0" stroke-linejoin="round"/>
<g fill="#264478"><circle cx="388.53" cy="349.67" r="1.8"/><circle cx="401.25" cy="349.67" r="1.8"/><circle cx="413.98" cy="349.67" r="1.8"/><circle cx="426.7" cy="349.51" r="1.8"/><circle cx="439.43" cy="347.6" r="1.8"/><circle cx="452.15" cy="349.51" r="1.8"/><circle cx="464.88" cy="346.01" r="1.8"/><circle cx="477.6" cy="345.69" r="1.8"/><circle cx="490.33" cy="299.36" r="1.8"/><circle cx="503.05" cy="233.6" r="1.8"/><circle cx="515.78" cy="269.1" r="1.8"/><circle cx="528.5" cy="257.96" r="1.8"/><circle cx="541.23" cy="250.95" r="1.8"/><circle cx="553.95" cy="299.68" r="1.8"/><circle cx="566.68" cy="321.65" r="1.8"/><circle cx="579.4" cy="288.53" r="1.8"/><circle cx="592.12" cy="271.81" r="1.8"/><circle cx="604.85" cy="312.09" r="1.8"/><circle cx="617.58" cy="335.98" r="1.8"/><circle cx="630.3" cy="343.94" r="1.8"/><circle cx="643.03" cy="348.72" r="1.8"/><circle cx="655.75" cy="351.9" r="1.8"/><circle cx="668.48" cy="349.51" r="1.8"/><circle cx="681.2" cy="347.92" r="1.8"/></g>
<polyline points="388.53,348.08 401.25,349.67 413.98,349.67 426.7,346.49 439.43,349.51 452.15,349.51 464.88,346.01 477.6,345.69 490.33,327.86 503.05,304.77 515.78,276.59 528.5,294.58 541.23,297.45 553.95,334.23 566.68,327.86 579.4,325.95 592.12,308.75 604.85,325.95 617.58,339.16 630.3,347.12 643.03,349.51 655.75,351.9 668.48,349.51 681.2,348.72" fill="none" stroke="#9E480E" stroke-width="1.0" stroke-linejoin="round"/>
<g fill="#9E480E"><circle cx="388.53" cy="348.08" r="1.8"/><circle cx="401.25" cy="349.67" r="1.8"/><circle cx="413.98" cy="349.67" r="1.8"/><circle cx="426.7" cy="346.49" r="1.8"/><circle cx="439.43" cy="349.51" r="1.8"/><circle cx="452.15" cy="349.51" r="1.8"/><circle cx="464.88" cy="346.01" r="1.8"/><circle cx="477.6" cy="345.69" r="1.8"/><circle cx="490.33" cy="327.86" r="1.8"/><circle cx="503.05" cy="304.77" r="1.8"/><circle cx="515.78" cy="276.59" r="1.8"/><circle cx="528.5" cy="294.58" r="1.8"/><circle cx="541.23" cy="297.45" r="1.8"/><circle cx="553.95" cy="334.23" r="1.8"/><circle cx="566.68" cy="327.86" r="1.8"/><circle cx="579.4" cy="325.95" r="1.8"/><circle cx="592.12" cy="308.75" r="1.8"/><circle cx="604.85" cy="325.95" r="1.8"/><circle cx="617.58" cy="339.16" r="1.8"/><circle cx="630.3" cy="347.12" r="1.8"/><circle cx="643.03" cy="349.51" r="1.8"/><circle cx="655.75" cy="351.9" r="1.8"/><circle cx="668.48" cy="349.51" r="1.8"/><circle cx="681.2" cy="348.72" r="1.8"/></g>
<polyline points="388.53,349.67 401.25,349.67 413.98,349.67 426.7,349.51 439.43,349.51 452.15,349.51 464.88,346.01 477.6,345.69 490.33,316.87 503.05,299.68 515.78,276.59 528.5,292.99 541.23,307.8 553.95,299.68 566.68,321.65 579.4,319.58 592.12,265.92 604.85,307.32 617.58,332.79 630.3,343.14 643.03,347.92 655.75,351.9 668.48,348.72 681.2,347.12" fill="none" stroke="#636363" stroke-width="1.0" stroke-linejoin="round"/>
<g fill="#636363"><circle cx="388.53" cy="349.67" r="1.8"/><circle cx="401.25" cy="349.67" r="1.8"/><circle cx="413.98" cy="349.67" r="1.8"/><circle cx="426.7" cy="349.51" r="1.8"/><circle cx="439.43" cy="349.51" r="1.8"/><circle cx="452.15" cy="349.51" r="1.8"/><circle cx="464.88" cy="346.01" r="1.8"/><circle cx="477.6" cy="345.69" r="1.8"/><circle cx="490.33" cy="316.87" r="1.8"/><circle cx="503.05" cy="299.68" r="1.8"/><circle cx="515.78" cy="276.59" r="1.8"/><circle cx="528.5" cy="292.99" r="1.8"/><circle cx="541.23" cy="307.8" r="1.8"/><circle cx="553.95" cy="299.68" r="1.8"/><circle cx="566.68" cy="321.65" r="1.8"/><circle cx="579.4" cy="319.58" r="1.8"/><circle cx="592.12" cy="265.92" r="1.8"/><circle cx="604.85" cy="307.32" r="1.8"/><circle cx="617.58" cy="332.79" r="1.8"/><circle cx="630.3" cy="343.14" r="1.8"/><circle cx="643.03" cy="347.92" r="1.8"/><circle cx="655.75" cy="351.9" r="1.8"/><circle cx="668.48" cy="348.72" r="1.8"/><circle cx="681.2" cy="347.12" r="1.8"/></g>
<polyline points="388.53,350.15 401.25,349.67 413.98,349.67 426.7,350.15 439.43,350.15 452.15,349.19 464.88,346.01 477.6,330.88 490.33,305.88 503.05,263.05 515.78,238.85 528.5,290.12 541.23,246.18 553.95,271.81 566.68,315.76 579.4,270.22 592.12,264.33 604.85,304.13 617.58,334.39 630.3,345.53 643.03,349.51 655.75,351.9 668.48,350.31 681.2,348.72" fill="none" stroke="#997300" stroke-width="1.0" stroke-linejoin="round"/>
<g fill="#997300"><circle cx="388.53" cy="350.15" r="1.8"/><circle cx="401.25" cy="349.67" r="1.8"/><circle cx="413.98" cy="349.67" r="1.8"/><circle cx="426.7" cy="350.15" r="1.8"/><circle cx="439.43" cy="350.15" r="1.8"/><circle cx="452.15" cy="349.19" r="1.8"/><circle cx="464.88" cy="346.01" r="1.8"/><circle cx="477.6" cy="330.88" r="1.8"/><circle cx="490.33" cy="305.88" r="1.8"/><circle cx="503.05" cy="263.05" r="1.8"/><circle cx="515.78" cy="238.85" r="1.8"/><circle cx="528.5" cy="290.12" r="1.8"/><circle cx="541.23" cy="246.18" r="1.8"/><circle cx="553.95" cy="271.81" r="1.8"/><circle cx="566.68" cy="315.76" r="1.8"/><circle cx="579.4" cy="270.22" r="1.8"/><circle cx="592.12" cy="264.33" r="1.8"/><circle cx="604.85" cy="304.13" r="1.8"/><circle cx="617.58" cy="334.39" r="1.8"/><circle cx="630.3" cy="345.53" r="1.8"/><circle cx="643.03" cy="349.51" r="1.8"/><circle cx="655.75" cy="351.9" r="1.8"/><circle cx="668.48" cy="350.31" r="1.8"/><circle cx="681.2" cy="348.72" r="1.8"/></g>
<line x1="394.9" y1="215.5" x2="406.7" y2="215.5" stroke="#4472C4" stroke-width="1.1"/><circle cx="400.8" cy="215.5" r="1.9" fill="#4472C4"/><text x="407.9" y="217.66" style="font-family:'Liberation Sans'" font-size="6.0" font-weight="bold" fill="#222">S1</text><line x1="422.35" y1="215.5" x2="434.15" y2="215.5" stroke="#ED7D31" stroke-width="1.1"/><circle cx="428.25" cy="215.5" r="1.9" fill="#ED7D31"/><text x="435.35" y="217.66" style="font-family:'Liberation Sans'" font-size="6.0" font-weight="bold" fill="#222">S2</text><line x1="449.8" y1="215.5" x2="461.6" y2="215.5" stroke="#A5A5A5" stroke-width="1.1"/><circle cx="455.7" cy="215.5" r="1.9" fill="#A5A5A5"/><text x="462.8" y="217.66" style="font-family:'Liberation Sans'" font-size="6.0" font-weight="bold" fill="#222">S3</text><line x1="477.25" y1="215.5" x2="489.05" y2="215.5" stroke="#FFC000" stroke-width="1.1"/><circle cx="483.15" cy="215.5" r="1.9" fill="#FFC000"/><text x="490.25" y="217.66" style="font-family:'Liberation Sans'" font-size="6.0" font-weight="bold" fill="#222">S4</text><line x1="504.7" y1="215.5" x2="516.5" y2="215.5" stroke="#5B9BD5" stroke-width="1.1"/><circle cx="510.6" cy="215.5" r="1.9" fill="#5B9BD5"/><text x="517.7" y="217.66" style="font-family:'Liberation Sans'" font-size="6.0" font-weight="bold" fill="#222">S5</text><line x1="532.15" y1="215.5" x2="543.95" y2="215.5" stroke="#70AD47" stroke-width="1.1"/><circle cx="538.05" cy="215.5" r="1.9" fill="#70AD47"/><text x="545.15" y="217.66" style="font-family:'Liberation Sans'" font-size="6.0" font-weight="bold" fill="#222">S6</text><line x1="559.6" y1="215.5" x2="571.4" y2="215.5" stroke="#264478" stroke-width="1.1"/><circle cx="565.5" cy="215.5" r="1.9" fill="#264478"/><text x="572.6" y="217.66" style="font-family:'Liberation Sans'" font-size="6.0" font-weight="bold" fill="#222">S7</text><line x1="587.05" y1="215.5" x2="598.85" y2="215.5" stroke="#9E480E" stroke-width="1.1"/><circle cx="592.95" cy="215.5" r="1.9" fill="#9E480E"/><text x="600.05" y="217.66" style="font-family:'Liberation Sans'" font-size="6.0" font-weight="bold" fill="#222">S8</text><line x1="614.5" y1="215.5" x2="626.3" y2="215.5" stroke="#636363" stroke-width="1.1"/><circle cx="620.4" cy="215.5" r="1.9" fill="#636363"/><text x="627.5" y="217.66" style="font-family:'Liberation Sans'" font-size="6.0" font-weight="bold" fill="#222">S9</text><line x1="641.95" y1="215.5" x2="653.75" y2="215.5" stroke="#997300" stroke-width="1.1"/><circle cx="647.85" cy="215.5" r="1.9" fill="#997300"/><text x="654.95" y="217.66" style="font-family:'Liberation Sans'" font-size="6.0" font-weight="bold" fill="#222">S10</text>
<text x="511.2" y="373.2" font-size="6.7" font-weight="bold" fill="#222" textLength="36.5" lengthAdjust="spacingAndGlyphs">Time (hour)</text>
<text transform="translate(359.7,339.6) rotate(-90)" font-size="6.8" font-weight="bold" fill="#111" textLength="107.1" lengthAdjust="spacingAndGlyphs">Load of Commercial Building II (kW)</text>
<text x="470.8" y="404.8" style="font-family:'Liberation Serif',serif" font-size="17" fill="#111">(d)</text>
</svg></body></html>
